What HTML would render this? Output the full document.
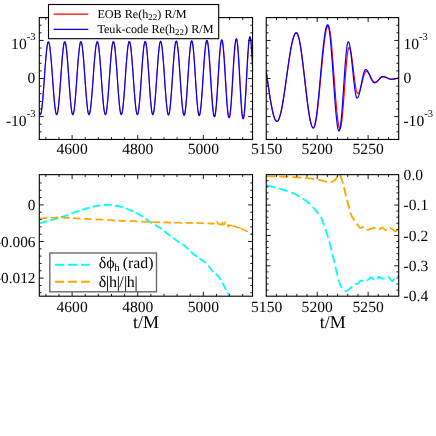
<!DOCTYPE html>
<html><head><meta charset="utf-8"><title>plot</title>
<style>
html,body{margin:0;padding:0;background:#fff;}
svg{display:block;}
text{font-family:"Liberation Serif",serif;fill:#000;text-rendering:geometricPrecision;}
</style></head><body>
<svg width="436" height="436" viewBox="0 0 436 436">
<rect x="0" y="0" width="436" height="436" fill="#fff"/>
<defs>
<clipPath id="cTL"><rect x="39.3" y="17.6" width="213.25" height="121.85"/></clipPath>
<clipPath id="cTR"><rect x="266.25" y="17.6" width="132.45" height="121.85"/></clipPath>
<clipPath id="cBL"><rect x="39.3" y="174.65" width="213.25" height="121.55"/></clipPath>
<clipPath id="cBR"><rect x="266.25" y="174.65" width="132.45" height="121.55"/></clipPath>
</defs>
<g fill="none" stroke-linejoin="round">
<g clip-path="url(#cTL)" stroke-width="1.2">
<path d="M39.3 111.96 L39.5 112.91 L39.7 113.64 L39.9 114.17 L40.1 114.49 L40.3 114.6 L40.5 114.49 L40.7 114.16 L40.9 113.62 L41.1 112.86 L41.3 111.9 L41.5 110.73 L41.7 109.37 L41.9 107.82 L42.1 106.09 L42.3 104.2 L42.5 102.14 L42.7 99.95 L42.9 97.62 L43.1 95.18 L43.3 92.64 L43.5 90.01 L43.7 87.3 L43.9 84.55 L44.1 81.75 L44.3 78.94 L44.5 76.12 L44.7 73.31 L44.9 70.53 L45.1 67.8 L45.3 65.13 L45.5 62.54 L45.7 60.05 L45.9 57.66 L46.1 55.4 L46.3 53.28 L46.5 51.3 L46.7 49.49 L46.9 47.85 L47.1 46.39 L47.3 45.12 L47.5 44.06 L47.7 43.2 L47.9 42.55 L48.1 42.11 L48.3 41.89 L48.5 41.89 L48.7 42.1 L48.9 42.51 L49.1 43.13 L49.3 43.95 L49.5 44.97 L49.7 46.18 L49.9 47.57 L50.1 49.14 L50.3 50.87 L50.5 52.76 L50.7 54.8 L50.9 56.97 L51.1 59.26 L51.3 61.66 L51.5 64.16 L51.7 66.73 L51.9 69.38 L52.1 72.07 L52.3 74.8 L52.5 77.54 L52.7 80.3 L52.9 83.04 L53.1 85.75 L53.3 88.42 L53.5 91.03 L53.7 93.57 L53.9 96.02 L54.1 98.37 L54.3 100.6 L54.5 102.7 L54.7 104.67 L54.9 106.48 L55.1 108.13 L55.3 109.61 L55.5 110.91 L55.7 112.03 L55.9 112.95 L56.1 113.67 L56.3 114.18 L56.5 114.5 L56.7 114.6 L56.9 114.49 L57.1 114.16 L57.3 113.62 L57.5 112.86 L57.7 111.9 L57.9 110.73 L58.1 109.36 L58.3 107.81 L58.5 106.08 L58.7 104.19 L58.9 102.13 L59.1 99.94 L59.3 97.61 L59.5 95.16 L59.7 92.62 L59.9 89.98 L60.1 87.28 L60.3 84.52 L60.5 81.72 L60.7 78.9 L60.9 76.08 L61.1 73.27 L61.3 70.49 L61.5 67.76 L61.7 65.09 L61.9 62.5 L62.1 60 L62.3 57.61 L62.5 55.34 L62.7 53.22 L62.9 51.24 L63.1 49.43 L63.3 47.79 L63.5 46.33 L63.7 45.06 L63.9 43.99 L64.1 43.13 L64.3 42.48 L64.5 42.04 L64.7 41.82 L64.9 41.82 L65.1 42.05 L65.3 42.5 L65.5 43.16 L65.7 44.05 L65.9 45.14 L66.1 46.44 L66.3 47.93 L66.5 49.61 L66.7 51.47 L66.9 53.49 L67.1 55.66 L67.3 57.97 L67.5 60.41 L67.7 62.96 L67.9 65.6 L68.1 68.32 L68.3 71.1 L68.5 73.92 L68.7 76.77 L68.9 79.63 L69.1 82.48 L69.3 85.3 L69.5 88.08 L69.7 90.8 L69.9 93.44 L70.1 95.98 L70.3 98.42 L70.5 100.73 L70.7 102.91 L70.9 104.93 L71.1 106.79 L71.3 108.47 L71.5 109.96 L71.7 111.26 L71.9 112.35 L72.1 113.23 L72.3 113.9 L72.5 114.35 L72.7 114.57 L72.9 114.57 L73.1 114.35 L73.3 113.92 L73.5 113.27 L73.7 112.4 L73.9 111.33 L74.1 110.07 L74.3 108.61 L74.5 106.96 L74.7 105.15 L74.9 103.17 L75.1 101.04 L75.3 98.77 L75.5 96.38 L75.7 93.88 L75.9 91.29 L76.1 88.61 L76.3 85.88 L76.5 83.1 L76.7 80.28 L76.9 77.46 L77.1 74.64 L77.3 71.84 L77.5 69.08 L77.7 66.37 L77.9 63.73 L78.1 61.18 L78.3 58.74 L78.5 56.41 L78.7 54.21 L78.9 52.15 L79.1 50.25 L79.3 48.52 L79.5 46.97 L79.7 45.61 L79.9 44.44 L80.1 43.47 L80.3 42.71 L80.5 42.17 L80.7 41.84 L80.9 41.73 L81.1 41.84 L81.3 42.17 L81.5 42.71 L81.7 43.47 L81.9 44.44 L82.1 45.61 L82.3 46.97 L82.5 48.52 L82.7 50.25 L82.9 52.15 L83.1 54.21 L83.3 56.41 L83.5 58.74 L83.7 61.18 L83.9 63.73 L84.1 66.37 L84.3 69.08 L84.5 71.84 L84.7 74.64 L84.9 77.46 L85.1 80.28 L85.3 83.1 L85.5 85.88 L85.7 88.61 L85.9 91.29 L86.1 93.88 L86.3 96.38 L86.5 98.77 L86.7 101.04 L86.9 103.17 L87.1 105.15 L87.3 106.96 L87.5 108.61 L87.7 110.07 L87.9 111.33 L88.1 112.4 L88.3 113.27 L88.5 113.92 L88.7 114.35 L88.9 114.57 L89.1 114.57 L89.3 114.37 L89.5 113.95 L89.7 113.33 L89.9 112.5 L90.1 111.48 L90.3 110.27 L90.5 108.88 L90.7 107.31 L90.9 105.57 L91.1 103.67 L91.3 101.63 L91.5 99.45 L91.7 97.16 L91.9 94.75 L92.1 92.25 L92.3 89.66 L92.5 87.01 L92.7 84.31 L92.9 81.58 L93.1 78.82 L93.3 76.06 L93.5 73.31 L93.7 70.59 L93.9 67.92 L94.1 65.3 L94.3 62.75 L94.5 60.3 L94.7 57.94 L94.9 55.7 L95.1 53.59 L95.3 51.62 L95.5 49.8 L95.7 48.15 L95.9 46.66 L96.1 45.36 L96.3 44.24 L96.5 43.32 L96.7 42.6 L96.9 42.08 L97.1 41.77 L97.3 41.66 L97.5 41.77 L97.7 42.1 L97.9 42.64 L98.1 43.4 L98.3 44.37 L98.5 45.54 L98.7 46.91 L98.9 48.46 L99.1 50.19 L99.3 52.09 L99.5 54.15 L99.7 56.35 L99.9 58.68 L100.1 61.13 L100.3 63.69 L100.5 66.32 L100.7 69.03 L100.9 71.8 L101.1 74.6 L101.3 77.42 L101.5 80.25 L101.7 83.07 L101.9 85.85 L102.1 88.59 L102.3 91.27 L102.5 93.86 L102.7 96.37 L102.9 98.76 L103.1 101.03 L103.3 103.16 L103.5 105.14 L103.7 106.96 L103.9 108.6 L104.1 110.06 L104.3 111.33 L104.5 112.4 L104.7 113.26 L104.9 113.92 L105.1 114.35 L105.3 114.57 L105.5 114.57 L105.7 114.35 L105.9 113.9 L106.1 113.23 L106.3 112.34 L106.5 111.25 L106.7 109.95 L106.9 108.45 L107.1 106.76 L107.3 104.9 L107.5 102.88 L107.7 100.7 L107.9 98.38 L108.1 95.93 L108.3 93.38 L108.5 90.73 L108.7 88.01 L108.9 85.22 L109.1 82.39 L109.3 79.53 L109.5 76.66 L109.7 73.81 L109.9 70.98 L110.1 68.19 L110.3 65.46 L110.5 62.81 L110.7 60.26 L110.9 57.82 L111.1 55.5 L111.3 53.32 L111.5 51.29 L111.7 49.43 L111.9 47.75 L112.1 46.25 L112.3 44.95 L112.5 43.85 L112.7 42.96 L112.9 42.3 L113.1 41.85 L113.3 41.62 L113.5 41.62 L113.7 41.85 L113.9 42.31 L114.1 43 L114.3 43.91 L114.5 45.03 L114.7 46.36 L114.9 47.9 L115.1 49.62 L115.3 51.53 L115.5 53.6 L115.7 55.83 L115.9 58.2 L116.1 60.69 L116.3 63.29 L116.5 65.99 L116.7 68.77 L116.9 71.6 L117.1 74.47 L117.3 77.37 L117.5 80.27 L117.7 83.16 L117.9 86.02 L118.1 88.82 L118.3 91.56 L118.5 94.21 L118.7 96.77 L118.9 99.2 L119.1 101.5 L119.3 103.65 L119.5 105.64 L119.7 107.46 L119.9 109.09 L120.1 110.52 L120.3 111.75 L120.5 112.77 L120.7 113.57 L120.9 114.14 L121.1 114.48 L121.3 114.6 L121.5 114.49 L121.7 114.15 L121.9 113.59 L122.1 112.81 L122.3 111.82 L122.5 110.62 L122.7 109.22 L122.9 107.62 L123.1 105.85 L123.3 103.9 L123.5 101.79 L123.7 99.54 L123.9 97.15 L124.1 94.65 L124.3 92.05 L124.5 89.35 L124.7 86.59 L124.9 83.78 L125.1 80.93 L125.3 78.06 L125.5 75.2 L125.7 72.35 L125.9 69.53 L126.1 66.77 L126.3 64.08 L126.5 61.48 L126.7 58.97 L126.9 56.59 L127.1 54.34 L127.3 52.23 L127.5 50.28 L127.7 48.51 L127.9 46.91 L128.1 45.51 L128.3 44.31 L128.5 43.32 L128.7 42.54 L128.9 41.98 L129.1 41.64 L129.3 41.53 L129.5 41.64 L129.7 41.97 L129.9 42.51 L130.1 43.27 L130.3 44.24 L130.5 45.41 L130.7 46.78 L130.9 48.34 L131.1 50.08 L131.3 51.98 L131.5 54.04 L131.7 56.25 L131.9 58.58 L132.1 61.04 L132.3 63.59 L132.5 66.24 L132.7 68.95 L132.9 71.72 L133.1 74.53 L133.3 77.36 L133.5 80.19 L133.7 83.01 L133.9 85.8 L134.1 88.54 L134.3 91.22 L134.5 93.83 L134.7 96.33 L134.9 98.73 L135.1 101 L135.3 103.14 L135.5 105.12 L135.7 106.94 L135.9 108.59 L136.1 110.05 L136.3 111.33 L136.5 112.4 L136.7 113.26 L136.9 113.92 L137.1 114.35 L137.3 114.57 L137.5 114.57 L137.7 114.33 L137.9 113.86 L138.1 113.16 L138.3 112.22 L138.5 111.07 L138.7 109.7 L138.9 108.13 L139.1 106.36 L139.3 104.4 L139.5 102.28 L139.7 100 L139.9 97.58 L140.1 95.03 L140.3 92.36 L140.5 89.61 L140.7 86.78 L140.9 83.9 L141.1 80.97 L141.3 78.03 L141.5 75.09 L141.7 72.16 L141.9 69.28 L142.1 66.45 L142.3 63.7 L142.5 61.04 L142.7 58.49 L142.9 56.06 L143.1 53.78 L143.3 51.66 L143.5 49.7 L143.7 47.93 L143.9 46.36 L144.1 44.99 L144.3 43.84 L144.5 42.91 L144.7 42.2 L144.9 41.73 L145.1 41.49 L145.3 41.49 L145.5 41.74 L145.7 42.24 L145.9 42.98 L146.1 43.96 L146.3 45.18 L146.5 46.62 L146.7 48.27 L146.9 50.13 L147.1 52.17 L147.3 54.4 L147.5 56.78 L147.7 59.31 L147.9 61.97 L148.1 64.74 L148.3 67.6 L148.5 70.53 L148.7 73.51 L148.9 76.52 L149.1 79.54 L149.3 82.55 L149.5 85.54 L149.7 88.47 L149.9 91.32 L150.1 94.09 L150.3 96.75 L150.5 99.28 L150.7 101.67 L150.9 103.89 L151.1 105.94 L151.3 107.79 L151.5 109.45 L151.7 110.88 L151.9 112.1 L152.1 113.08 L152.3 113.82 L152.5 114.32 L152.7 114.57 L152.9 114.57 L153.1 114.33 L153.3 113.86 L153.5 113.15 L153.7 112.22 L153.9 111.07 L154.1 109.7 L154.3 108.12 L154.5 106.35 L154.7 104.39 L154.9 102.27 L155.1 99.98 L155.3 97.56 L155.5 95.01 L155.7 92.34 L155.9 89.59 L156.1 86.75 L156.3 83.87 L156.5 80.94 L156.7 77.99 L156.9 75.05 L157.1 72.12 L157.3 69.23 L157.5 66.4 L157.7 63.65 L157.9 60.98 L158.1 58.43 L158.3 56 L158.5 53.72 L158.7 51.59 L158.9 49.64 L159.1 47.87 L159.3 46.29 L159.5 44.92 L159.7 43.77 L159.9 42.83 L160.1 42.13 L160.3 41.65 L160.5 41.42 L160.7 41.42 L160.9 41.65 L161.1 42.11 L161.3 42.8 L161.5 43.72 L161.7 44.85 L161.9 46.19 L162.1 47.74 L162.3 49.48 L162.5 51.39 L162.7 53.48 L162.9 55.73 L163.1 58.11 L163.3 60.62 L163.5 63.25 L163.7 65.96 L163.9 68.76 L164.1 71.61 L164.3 74.51 L164.5 77.43 L164.7 80.35 L164.9 83.26 L165.1 86.14 L165.3 88.96 L165.5 91.72 L165.7 94.39 L165.9 96.96 L166.1 99.42 L166.3 101.73 L166.5 103.9 L166.7 105.9 L166.9 107.73 L167.1 109.38 L167.3 110.82 L167.5 112.06 L167.7 113.08 L167.9 113.89 L168.1 114.47 L168.3 114.81 L168.5 114.93 L168.7 114.81 L168.9 114.45 L169.1 113.86 L169.3 113.03 L169.5 111.97 L169.7 110.7 L169.9 109.21 L170.1 107.52 L170.3 105.64 L170.5 103.58 L170.7 101.36 L170.9 98.98 L171.1 96.47 L171.3 93.83 L171.5 91.1 L171.7 88.28 L171.9 85.39 L172.1 82.45 L172.3 79.49 L172.5 76.51 L172.7 73.55 L172.9 70.62 L173.1 67.73 L173.3 64.91 L173.5 62.17 L173.7 59.54 L173.9 57.02 L174.1 54.65 L174.3 52.42 L174.5 50.36 L174.7 48.48 L174.9 46.79 L175.1 45.3 L175.3 44.03 L175.5 42.97 L175.7 42.15 L175.9 41.55 L176.1 41.19 L176.3 41.07 L176.5 41.19 L176.7 41.55 L176.9 42.15 L177.1 42.98 L177.3 44.04 L177.5 45.32 L177.7 46.82 L177.9 48.51 L178.1 50.4 L178.3 52.47 L178.5 54.71 L178.7 57.1 L178.9 59.62 L179.1 62.27 L179.3 65.01 L179.5 67.85 L179.7 70.75 L179.9 73.7 L180.1 76.67 L180.3 79.66 L180.5 82.64 L180.7 85.59 L180.9 88.49 L181.1 91.32 L181.3 94.07 L181.5 96.71 L181.7 99.24 L181.9 101.63 L182.1 103.86 L182.3 105.93 L182.5 107.82 L182.7 109.52 L182.9 111.01 L183.1 112.29 L183.3 113.35 L183.5 114.18 L183.7 114.78 L183.9 115.14 L184.1 115.26 L184.3 115.13 L184.5 114.75 L184.7 114.12 L184.9 113.24 L185.1 112.12 L185.3 110.77 L185.5 109.2 L185.7 107.41 L185.9 105.42 L186.1 103.24 L186.3 100.89 L186.5 98.39 L186.7 95.74 L186.9 92.98 L187.1 90.11 L187.3 87.16 L187.5 84.14 L187.7 81.09 L187.9 78.01 L188.1 74.94 L188.3 71.88 L188.5 68.87 L188.7 65.92 L188.9 63.05 L189.1 60.29 L189.3 57.64 L189.5 55.14 L189.7 52.79 L189.9 50.61 L190.1 48.62 L190.3 46.83 L190.5 45.26 L190.7 43.9 L190.9 42.78 L191.1 41.91 L191.3 41.27 L191.5 40.89 L191.7 40.77 L191.9 40.9 L192.1 41.29 L192.3 41.94 L192.5 42.85 L192.7 44 L192.9 45.39 L193.1 47.02 L193.3 48.86 L193.5 50.9 L193.7 53.14 L193.9 55.56 L194.1 58.13 L194.3 60.84 L194.5 63.68 L194.7 66.61 L194.9 69.63 L195.1 72.71 L195.3 75.83 L195.5 78.96 L195.7 82.08 L195.9 85.18 L196.1 88.23 L196.3 91.21 L196.5 94.1 L196.7 96.88 L196.9 99.52 L197.1 102.02 L197.3 104.35 L197.5 106.49 L197.7 108.44 L197.9 110.17 L198.1 111.68 L198.3 112.96 L198.5 113.99 L198.7 114.77 L198.9 115.29 L199.1 115.55 L199.3 115.55 L199.5 115.31 L199.7 114.83 L199.9 114.12 L200.1 113.17 L200.3 112 L200.5 110.61 L200.7 109.01 L200.9 107.21 L201.1 105.22 L201.3 103.06 L201.5 100.74 L201.7 98.28 L201.9 95.68 L202.1 92.97 L202.3 90.16 L202.5 87.28 L202.7 84.33 L202.9 81.35 L203.1 78.34 L203.3 75.34 L203.5 72.34 L203.7 69.39 L203.9 66.49 L204.1 63.66 L204.3 60.92 L204.5 58.3 L204.7 55.8 L204.9 53.44 L205.1 51.24 L205.3 49.21 L205.5 47.36 L205.7 45.71 L205.9 44.27 L206.1 43.04 L206.3 42.03 L206.5 41.26 L206.7 40.72 L206.9 40.42 L207.1 40.36 L207.3 40.56 L207.5 41.01 L207.7 41.72 L207.9 42.68 L208.1 43.89 L208.3 45.33 L208.5 47 L208.7 48.89 L208.9 50.97 L209.1 53.25 L209.3 55.69 L209.5 58.3 L209.7 61.04 L209.9 63.9 L210.1 66.86 L210.3 69.9 L210.5 72.99 L210.7 76.13 L210.9 79.28 L211.1 82.43 L211.3 85.55 L211.5 88.62 L211.7 91.62 L211.9 94.53 L212.1 97.33 L212.3 100.01 L212.5 102.54 L212.7 104.9 L212.9 107.08 L213.1 109.07 L213.3 110.85 L213.5 112.4 L213.7 113.73 L213.9 114.81 L214.1 115.65 L214.3 116.23 L214.5 116.56 L214.7 116.62 L214.9 116.41 L215.1 115.91 L215.3 115.14 L215.5 114.09 L215.7 112.78 L215.9 111.21 L216.1 109.39 L216.3 107.35 L216.5 105.09 L216.7 102.63 L216.9 99.99 L217.1 97.19 L217.3 94.25 L217.5 91.19 L217.7 88.03 L217.9 84.8 L218.1 81.52 L218.3 78.22 L218.5 74.92 L218.7 71.64 L218.9 68.41 L219.1 65.26 L219.3 62.2 L219.5 59.26 L219.7 56.45 L219.9 53.81 L220.1 51.35 L220.3 49.09 L220.5 47.05 L220.7 45.24 L220.9 43.67 L221.1 42.35 L221.3 41.3 L221.5 40.53 L221.7 40.03 L221.9 39.82 L222.1 39.89 L222.3 40.25 L222.5 40.9 L222.7 41.82 L222.9 43.02 L223.1 44.49 L223.3 46.21 L223.5 48.17 L223.7 50.36 L223.9 52.75 L224.1 55.35 L224.3 58.11 L224.5 61.03 L224.7 64.08 L224.9 67.24 L225.1 70.48 L225.3 73.78 L225.5 77.13 L225.7 80.48 L225.9 83.83 L226.1 87.13 L226.3 90.38 L226.5 93.53 L226.7 96.58 L226.9 99.5 L227.1 102.27 L227.3 104.86 L227.5 107.25 L227.7 109.44 L227.9 111.4 L228.1 113.12 L228.3 114.59 L228.5 115.79 L228.7 116.71 L228.9 117.36 L229.1 117.72 L229.3 117.79 L229.5 117.57 L229.7 117.06 L229.9 116.26 L230.1 115.19 L230.3 113.84 L230.5 112.22 L230.7 110.36 L230.9 108.25 L231.1 105.93 L231.3 103.4 L231.5 100.68 L231.7 97.8 L231.9 94.78 L232.1 91.63 L232.3 88.39 L232.5 85.07 L232.7 81.7 L232.9 78.3 L233.1 74.9 L233.3 71.53 L233.5 68.21 L233.7 64.97 L233.9 61.82 L234.1 58.8 L234.3 55.92 L234.5 53.2 L234.7 50.67 L234.9 48.35 L235.1 46.24 L235.3 44.38 L235.5 42.76 L235.7 41.41 L235.9 40.34 L236.1 39.54 L236.3 39.03 L236.5 38.81 L236.7 38.9 L236.9 39.32 L237.1 40.08 L237.3 41.18 L237.5 42.59 L237.7 44.31 L237.9 46.33 L238.1 48.63 L238.3 51.18 L238.5 53.96 L238.7 56.96 L238.9 60.15 L239.1 63.49 L239.3 66.97 L239.5 70.54 L239.7 74.19 L239.9 77.88 L240.1 81.57 L240.3 85.24 L240.5 88.85 L240.7 92.38 L240.9 95.8 L241.1 99.07 L241.3 102.16 L241.5 105.06 L241.7 107.73 L241.9 110.16 L242.1 112.31 L242.3 114.19 L242.5 115.76 L242.7 117.01 L242.9 117.94 L243.1 118.53 L243.3 118.79 L243.5 118.7 L243.7 118.27 L243.9 117.48 L244.1 116.36 L244.3 114.91 L244.5 113.15 L244.7 111.08 L244.9 108.73 L245.1 106.11 L245.3 103.26 L245.5 100.18 L245.7 96.92 L245.9 93.49 L246.1 89.93 L246.3 86.26 L246.5 82.52 L246.7 78.75 L246.9 74.96 L247.1 71.2 L247.3 67.49 L247.5 63.88 L247.7 60.38 L247.9 57.03 L248.1 53.85 L248.3 50.89 L248.5 48.15 L248.7 45.66 L248.9 43.45 L249.1 41.53 L249.3 39.92 L249.5 38.63 L249.7 37.68 L249.9 37.07 L250.1 36.81 L250.3 36.91 L250.5 37.4 L250.7 38.28 L250.9 39.54 L251.1 41.16 L251.3 43.14 L251.5 45.45 L251.7 48.07 L251.9 50.98 L252.1 54.15 L252.3 57.56 L252.5 61.16" stroke="#f00" stroke-width="0.9"/>
<path d="M39.3 111.96 L39.5 112.91 L39.7 113.64 L39.9 114.17 L40.1 114.49 L40.3 114.6 L40.5 114.49 L40.7 114.16 L40.9 113.62 L41.1 112.86 L41.3 111.9 L41.5 110.73 L41.7 109.37 L41.9 107.82 L42.1 106.09 L42.3 104.2 L42.5 102.14 L42.7 99.95 L42.9 97.62 L43.1 95.18 L43.3 92.64 L43.5 90.01 L43.7 87.3 L43.9 84.55 L44.1 81.75 L44.3 78.94 L44.5 76.12 L44.7 73.31 L44.9 70.53 L45.1 67.8 L45.3 65.13 L45.5 62.54 L45.7 60.05 L45.9 57.66 L46.1 55.4 L46.3 53.28 L46.5 51.3 L46.7 49.49 L46.9 47.85 L47.1 46.39 L47.3 45.12 L47.5 44.06 L47.7 43.2 L47.9 42.55 L48.1 42.11 L48.3 41.89 L48.5 41.89 L48.7 42.1 L48.9 42.51 L49.1 43.13 L49.3 43.95 L49.5 44.97 L49.7 46.18 L49.9 47.57 L50.1 49.14 L50.3 50.87 L50.5 52.76 L50.7 54.8 L50.9 56.97 L51.1 59.26 L51.3 61.66 L51.5 64.16 L51.7 66.73 L51.9 69.38 L52.1 72.07 L52.3 74.8 L52.5 77.54 L52.7 80.3 L52.9 83.04 L53.1 85.75 L53.3 88.42 L53.5 91.03 L53.7 93.57 L53.9 96.02 L54.1 98.37 L54.3 100.6 L54.5 102.7 L54.7 104.67 L54.9 106.48 L55.1 108.13 L55.3 109.61 L55.5 110.91 L55.7 112.03 L55.9 112.95 L56.1 113.67 L56.3 114.18 L56.5 114.5 L56.7 114.6 L56.9 114.49 L57.1 114.16 L57.3 113.62 L57.5 112.86 L57.7 111.9 L57.9 110.73 L58.1 109.36 L58.3 107.81 L58.5 106.08 L58.7 104.19 L58.9 102.13 L59.1 99.94 L59.3 97.61 L59.5 95.16 L59.7 92.62 L59.9 89.98 L60.1 87.28 L60.3 84.52 L60.5 81.72 L60.7 78.9 L60.9 76.08 L61.1 73.27 L61.3 70.49 L61.5 67.76 L61.7 65.09 L61.9 62.5 L62.1 60 L62.3 57.61 L62.5 55.34 L62.7 53.22 L62.9 51.24 L63.1 49.43 L63.3 47.79 L63.5 46.33 L63.7 45.06 L63.9 43.99 L64.1 43.13 L64.3 42.48 L64.5 42.04 L64.7 41.82 L64.9 41.82 L65.1 42.05 L65.3 42.5 L65.5 43.16 L65.7 44.05 L65.9 45.14 L66.1 46.44 L66.3 47.93 L66.5 49.61 L66.7 51.47 L66.9 53.49 L67.1 55.66 L67.3 57.97 L67.5 60.41 L67.7 62.96 L67.9 65.6 L68.1 68.32 L68.3 71.1 L68.5 73.92 L68.7 76.77 L68.9 79.63 L69.1 82.48 L69.3 85.3 L69.5 88.08 L69.7 90.8 L69.9 93.44 L70.1 95.98 L70.3 98.42 L70.5 100.73 L70.7 102.91 L70.9 104.93 L71.1 106.79 L71.3 108.47 L71.5 109.96 L71.7 111.26 L71.9 112.35 L72.1 113.23 L72.3 113.9 L72.5 114.35 L72.7 114.57 L72.9 114.57 L73.1 114.35 L73.3 113.92 L73.5 113.27 L73.7 112.4 L73.9 111.33 L74.1 110.07 L74.3 108.61 L74.5 106.96 L74.7 105.15 L74.9 103.17 L75.1 101.04 L75.3 98.77 L75.5 96.38 L75.7 93.88 L75.9 91.29 L76.1 88.61 L76.3 85.88 L76.5 83.1 L76.7 80.28 L76.9 77.46 L77.1 74.64 L77.3 71.84 L77.5 69.08 L77.7 66.37 L77.9 63.73 L78.1 61.18 L78.3 58.74 L78.5 56.41 L78.7 54.21 L78.9 52.15 L79.1 50.25 L79.3 48.52 L79.5 46.97 L79.7 45.61 L79.9 44.44 L80.1 43.47 L80.3 42.71 L80.5 42.17 L80.7 41.84 L80.9 41.73 L81.1 41.84 L81.3 42.17 L81.5 42.71 L81.7 43.47 L81.9 44.44 L82.1 45.61 L82.3 46.97 L82.5 48.52 L82.7 50.25 L82.9 52.15 L83.1 54.21 L83.3 56.41 L83.5 58.74 L83.7 61.18 L83.9 63.73 L84.1 66.37 L84.3 69.08 L84.5 71.84 L84.7 74.64 L84.9 77.46 L85.1 80.28 L85.3 83.1 L85.5 85.88 L85.7 88.61 L85.9 91.29 L86.1 93.88 L86.3 96.38 L86.5 98.77 L86.7 101.04 L86.9 103.17 L87.1 105.15 L87.3 106.96 L87.5 108.61 L87.7 110.07 L87.9 111.33 L88.1 112.4 L88.3 113.27 L88.5 113.92 L88.7 114.35 L88.9 114.57 L89.1 114.57 L89.3 114.37 L89.5 113.95 L89.7 113.33 L89.9 112.5 L90.1 111.48 L90.3 110.27 L90.5 108.88 L90.7 107.31 L90.9 105.57 L91.1 103.67 L91.3 101.63 L91.5 99.45 L91.7 97.16 L91.9 94.75 L92.1 92.25 L92.3 89.66 L92.5 87.01 L92.7 84.31 L92.9 81.58 L93.1 78.82 L93.3 76.06 L93.5 73.31 L93.7 70.59 L93.9 67.92 L94.1 65.3 L94.3 62.75 L94.5 60.3 L94.7 57.94 L94.9 55.7 L95.1 53.59 L95.3 51.62 L95.5 49.8 L95.7 48.15 L95.9 46.66 L96.1 45.36 L96.3 44.24 L96.5 43.32 L96.7 42.6 L96.9 42.08 L97.1 41.77 L97.3 41.66 L97.5 41.77 L97.7 42.1 L97.9 42.64 L98.1 43.4 L98.3 44.37 L98.5 45.54 L98.7 46.91 L98.9 48.46 L99.1 50.19 L99.3 52.09 L99.5 54.15 L99.7 56.35 L99.9 58.68 L100.1 61.13 L100.3 63.69 L100.5 66.32 L100.7 69.03 L100.9 71.8 L101.1 74.6 L101.3 77.42 L101.5 80.25 L101.7 83.07 L101.9 85.85 L102.1 88.59 L102.3 91.27 L102.5 93.86 L102.7 96.37 L102.9 98.76 L103.1 101.03 L103.3 103.16 L103.5 105.14 L103.7 106.96 L103.9 108.6 L104.1 110.06 L104.3 111.33 L104.5 112.4 L104.7 113.26 L104.9 113.92 L105.1 114.35 L105.3 114.57 L105.5 114.57 L105.7 114.35 L105.9 113.9 L106.1 113.23 L106.3 112.34 L106.5 111.25 L106.7 109.95 L106.9 108.45 L107.1 106.76 L107.3 104.9 L107.5 102.88 L107.7 100.7 L107.9 98.38 L108.1 95.93 L108.3 93.38 L108.5 90.73 L108.7 88.01 L108.9 85.22 L109.1 82.39 L109.3 79.53 L109.5 76.66 L109.7 73.81 L109.9 70.98 L110.1 68.19 L110.3 65.46 L110.5 62.81 L110.7 60.26 L110.9 57.82 L111.1 55.5 L111.3 53.32 L111.5 51.29 L111.7 49.43 L111.9 47.75 L112.1 46.25 L112.3 44.95 L112.5 43.85 L112.7 42.96 L112.9 42.3 L113.1 41.85 L113.3 41.62 L113.5 41.62 L113.7 41.85 L113.9 42.31 L114.1 43 L114.3 43.91 L114.5 45.03 L114.7 46.36 L114.9 47.9 L115.1 49.62 L115.3 51.53 L115.5 53.6 L115.7 55.83 L115.9 58.2 L116.1 60.69 L116.3 63.29 L116.5 65.99 L116.7 68.77 L116.9 71.6 L117.1 74.47 L117.3 77.37 L117.5 80.27 L117.7 83.16 L117.9 86.02 L118.1 88.82 L118.3 91.56 L118.5 94.21 L118.7 96.77 L118.9 99.2 L119.1 101.5 L119.3 103.65 L119.5 105.64 L119.7 107.46 L119.9 109.09 L120.1 110.52 L120.3 111.75 L120.5 112.77 L120.7 113.57 L120.9 114.14 L121.1 114.48 L121.3 114.6 L121.5 114.49 L121.7 114.15 L121.9 113.59 L122.1 112.81 L122.3 111.82 L122.5 110.62 L122.7 109.22 L122.9 107.62 L123.1 105.85 L123.3 103.9 L123.5 101.79 L123.7 99.54 L123.9 97.15 L124.1 94.65 L124.3 92.05 L124.5 89.35 L124.7 86.59 L124.9 83.78 L125.1 80.93 L125.3 78.06 L125.5 75.2 L125.7 72.35 L125.9 69.53 L126.1 66.77 L126.3 64.08 L126.5 61.48 L126.7 58.97 L126.9 56.59 L127.1 54.34 L127.3 52.23 L127.5 50.28 L127.7 48.51 L127.9 46.91 L128.1 45.51 L128.3 44.31 L128.5 43.32 L128.7 42.54 L128.9 41.98 L129.1 41.64 L129.3 41.53 L129.5 41.64 L129.7 41.97 L129.9 42.51 L130.1 43.27 L130.3 44.24 L130.5 45.41 L130.7 46.78 L130.9 48.34 L131.1 50.08 L131.3 51.98 L131.5 54.04 L131.7 56.25 L131.9 58.58 L132.1 61.04 L132.3 63.59 L132.5 66.24 L132.7 68.95 L132.9 71.72 L133.1 74.53 L133.3 77.36 L133.5 80.19 L133.7 83.01 L133.9 85.8 L134.1 88.54 L134.3 91.22 L134.5 93.83 L134.7 96.33 L134.9 98.73 L135.1 101 L135.3 103.14 L135.5 105.12 L135.7 106.94 L135.9 108.59 L136.1 110.05 L136.3 111.33 L136.5 112.4 L136.7 113.26 L136.9 113.92 L137.1 114.35 L137.3 114.57 L137.5 114.57 L137.7 114.33 L137.9 113.86 L138.1 113.16 L138.3 112.22 L138.5 111.07 L138.7 109.7 L138.9 108.13 L139.1 106.36 L139.3 104.4 L139.5 102.28 L139.7 100 L139.9 97.58 L140.1 95.03 L140.3 92.36 L140.5 89.61 L140.7 86.78 L140.9 83.9 L141.1 80.97 L141.3 78.03 L141.5 75.09 L141.7 72.16 L141.9 69.28 L142.1 66.45 L142.3 63.7 L142.5 61.04 L142.7 58.49 L142.9 56.06 L143.1 53.78 L143.3 51.66 L143.5 49.7 L143.7 47.93 L143.9 46.36 L144.1 44.99 L144.3 43.84 L144.5 42.91 L144.7 42.2 L144.9 41.73 L145.1 41.49 L145.3 41.49 L145.5 41.74 L145.7 42.24 L145.9 42.98 L146.1 43.96 L146.3 45.18 L146.5 46.62 L146.7 48.27 L146.9 50.13 L147.1 52.17 L147.3 54.4 L147.5 56.78 L147.7 59.31 L147.9 61.97 L148.1 64.74 L148.3 67.6 L148.5 70.53 L148.7 73.51 L148.9 76.52 L149.1 79.54 L149.3 82.55 L149.5 85.54 L149.7 88.47 L149.9 91.32 L150.1 94.09 L150.3 96.75 L150.5 99.28 L150.7 101.67 L150.9 103.89 L151.1 105.94 L151.3 107.79 L151.5 109.45 L151.7 110.88 L151.9 112.1 L152.1 113.08 L152.3 113.82 L152.5 114.32 L152.7 114.57 L152.9 114.57 L153.1 114.33 L153.3 113.86 L153.5 113.15 L153.7 112.22 L153.9 111.07 L154.1 109.7 L154.3 108.12 L154.5 106.35 L154.7 104.39 L154.9 102.27 L155.1 99.98 L155.3 97.56 L155.5 95.01 L155.7 92.34 L155.9 89.59 L156.1 86.75 L156.3 83.87 L156.5 80.94 L156.7 77.99 L156.9 75.05 L157.1 72.12 L157.3 69.23 L157.5 66.4 L157.7 63.65 L157.9 60.98 L158.1 58.43 L158.3 56 L158.5 53.72 L158.7 51.59 L158.9 49.64 L159.1 47.87 L159.3 46.29 L159.5 44.92 L159.7 43.77 L159.9 42.83 L160.1 42.13 L160.3 41.65 L160.5 41.42 L160.7 41.42 L160.9 41.65 L161.1 42.11 L161.3 42.8 L161.5 43.72 L161.7 44.85 L161.9 46.19 L162.1 47.74 L162.3 49.48 L162.5 51.39 L162.7 53.48 L162.9 55.73 L163.1 58.11 L163.3 60.62 L163.5 63.25 L163.7 65.96 L163.9 68.76 L164.1 71.61 L164.3 74.51 L164.5 77.43 L164.7 80.35 L164.9 83.26 L165.1 86.14 L165.3 88.96 L165.5 91.72 L165.7 94.39 L165.9 96.96 L166.1 99.42 L166.3 101.73 L166.5 103.9 L166.7 105.9 L166.9 107.73 L167.1 109.38 L167.3 110.82 L167.5 112.06 L167.7 113.08 L167.9 113.89 L168.1 114.47 L168.3 114.81 L168.5 114.93 L168.7 114.81 L168.9 114.45 L169.1 113.86 L169.3 113.03 L169.5 111.97 L169.7 110.7 L169.9 109.21 L170.1 107.52 L170.3 105.64 L170.5 103.58 L170.7 101.36 L170.9 98.98 L171.1 96.47 L171.3 93.83 L171.5 91.1 L171.7 88.28 L171.9 85.39 L172.1 82.45 L172.3 79.49 L172.5 76.51 L172.7 73.55 L172.9 70.62 L173.1 67.73 L173.3 64.91 L173.5 62.17 L173.7 59.54 L173.9 57.02 L174.1 54.65 L174.3 52.42 L174.5 50.36 L174.7 48.48 L174.9 46.79 L175.1 45.3 L175.3 44.03 L175.5 42.97 L175.7 42.15 L175.9 41.55 L176.1 41.19 L176.3 41.07 L176.5 41.19 L176.7 41.55 L176.9 42.15 L177.1 42.98 L177.3 44.04 L177.5 45.32 L177.7 46.82 L177.9 48.51 L178.1 50.4 L178.3 52.47 L178.5 54.71 L178.7 57.1 L178.9 59.62 L179.1 62.27 L179.3 65.01 L179.5 67.85 L179.7 70.75 L179.9 73.7 L180.1 76.67 L180.3 79.66 L180.5 82.64 L180.7 85.59 L180.9 88.49 L181.1 91.32 L181.3 94.07 L181.5 96.71 L181.7 99.24 L181.9 101.63 L182.1 103.86 L182.3 105.93 L182.5 107.82 L182.7 109.52 L182.9 111.01 L183.1 112.29 L183.3 113.35 L183.5 114.18 L183.7 114.78 L183.9 115.14 L184.1 115.26 L184.3 115.13 L184.5 114.75 L184.7 114.12 L184.9 113.24 L185.1 112.12 L185.3 110.77 L185.5 109.2 L185.7 107.41 L185.9 105.42 L186.1 103.24 L186.3 100.89 L186.5 98.39 L186.7 95.74 L186.9 92.98 L187.1 90.11 L187.3 87.16 L187.5 84.14 L187.7 81.09 L187.9 78.01 L188.1 74.94 L188.3 71.88 L188.5 68.87 L188.7 65.92 L188.9 63.05 L189.1 60.29 L189.3 57.64 L189.5 55.14 L189.7 52.79 L189.9 50.61 L190.1 48.62 L190.3 46.83 L190.5 45.26 L190.7 43.9 L190.9 42.78 L191.1 41.91 L191.3 41.27 L191.5 40.89 L191.7 40.77 L191.9 40.9 L192.1 41.29 L192.3 41.94 L192.5 42.85 L192.7 44 L192.9 45.39 L193.1 47.02 L193.3 48.86 L193.5 50.9 L193.7 53.14 L193.9 55.56 L194.1 58.13 L194.3 60.84 L194.5 63.68 L194.7 66.61 L194.9 69.63 L195.1 72.71 L195.3 75.83 L195.5 78.96 L195.7 82.08 L195.9 85.18 L196.1 88.23 L196.3 91.21 L196.5 94.1 L196.7 96.88 L196.9 99.52 L197.1 102.02 L197.3 104.35 L197.5 106.49 L197.7 108.44 L197.9 110.17 L198.1 111.68 L198.3 112.96 L198.5 113.99 L198.7 114.77 L198.9 115.29 L199.1 115.55 L199.3 115.55 L199.5 115.29 L199.7 114.78 L199.9 114.02 L200.1 113.01 L200.3 111.76 L200.5 110.28 L200.7 108.58 L200.9 106.67 L201.1 104.57 L201.3 102.28 L201.5 99.83 L201.7 97.22 L201.9 94.49 L202.1 91.64 L202.3 88.7 L202.5 85.69 L202.7 82.62 L202.9 79.52 L203.1 76.41 L203.3 73.32 L203.5 70.25 L203.7 67.23 L203.9 64.29 L204.1 61.45 L204.3 58.71 L204.5 56.11 L204.7 53.66 L204.9 51.37 L205.1 49.26 L205.3 47.35 L205.5 45.65 L205.7 44.17 L205.9 42.93 L206.1 41.92 L206.3 41.15 L206.5 40.64 L206.7 40.38 L206.9 40.39 L207.1 40.65 L207.3 41.16 L207.5 41.94 L207.7 42.96 L207.9 44.23 L208.1 45.73 L208.3 47.45 L208.5 49.39 L208.7 51.52 L208.9 53.84 L209.1 56.33 L209.3 58.97 L209.5 61.74 L209.7 64.63 L209.9 67.61 L210.1 70.67 L210.3 73.77 L210.5 76.92 L210.7 80.07 L210.9 83.21 L211.1 86.32 L211.3 89.37 L211.5 92.36 L211.7 95.24 L211.9 98.02 L212.1 100.65 L212.3 103.14 L212.5 105.46 L212.7 107.6 L212.9 109.53 L213.1 111.26 L213.3 112.76 L213.5 114.02 L213.7 115.05 L213.9 115.82 L214.1 116.34 L214.3 116.6 L214.5 116.6 L214.7 116.31 L214.9 115.75 L215.1 114.9 L215.3 113.79 L215.5 112.41 L215.7 110.78 L215.9 108.9 L216.1 106.8 L216.3 104.49 L216.5 101.98 L216.7 99.3 L216.9 96.46 L217.1 93.49 L217.3 90.4 L217.5 87.23 L217.7 83.99 L217.9 80.7 L218.1 77.4 L218.3 74.1 L218.5 70.83 L218.7 67.62 L218.9 64.48 L219.1 61.45 L219.3 58.54 L219.5 55.78 L219.7 53.18 L219.9 50.77 L220.1 48.56 L220.3 46.57 L220.5 44.82 L220.7 43.31 L220.9 42.06 L221.1 41.08 L221.3 40.38 L221.5 39.95 L221.7 39.81 L221.9 39.96 L222.1 40.39 L222.3 41.1 L222.5 42.1 L222.7 43.37 L222.9 44.9 L223.1 46.68 L223.3 48.7 L223.5 50.94 L223.7 53.38 L223.9 56.02 L224.1 58.83 L224.3 61.78 L224.5 64.86 L224.7 68.04 L224.9 71.3 L225.1 74.62 L225.3 77.97 L225.5 81.32 L225.7 84.66 L225.9 87.95 L226.1 91.17 L226.3 94.31 L226.5 97.33 L226.7 100.21 L226.9 102.93 L227.1 105.47 L227.3 107.82 L227.5 109.95 L227.7 111.85 L227.9 113.51 L228.1 114.91 L228.3 116.04 L228.5 116.9 L228.7 117.48 L228.9 117.76 L229.1 117.76 L229.3 117.47 L229.5 116.89 L229.7 116.02 L229.9 114.87 L230.1 113.46 L230.3 111.78 L230.5 109.85 L230.7 107.69 L230.9 105.31 L231.1 102.74 L231.3 99.98 L231.5 97.06 L231.7 94 L231.9 90.83 L232.1 87.56 L232.3 84.23 L232.5 80.85 L232.7 77.45 L232.9 74.06 L233.1 70.7 L233.3 67.39 L233.5 64.17 L233.7 61.05 L233.9 58.06 L234.1 55.22 L234.3 52.55 L234.5 50.07 L234.7 47.8 L234.9 45.76 L235.1 43.95 L235.3 42.4 L235.5 41.12 L235.7 40.11 L235.9 39.38 L236.1 38.95 L236.3 38.8 L236.5 38.97 L236.7 39.48 L236.9 40.33 L237.1 41.5 L237.3 42.99 L237.5 44.79 L237.7 46.88 L237.9 49.24 L238.1 51.85 L238.3 54.69 L238.5 57.74 L238.7 60.97 L238.9 64.35 L239.1 67.85 L239.3 71.45 L239.5 75.11 L239.7 78.8 L239.9 82.49 L240.1 86.15 L240.3 89.75 L240.5 93.25 L240.7 96.63 L240.9 99.86 L241.1 102.91 L241.3 105.75 L241.5 108.36 L241.7 110.72 L241.9 112.81 L242.1 114.61 L242.3 116.1 L242.5 117.27 L242.7 118.12 L242.9 118.63 L243.1 118.8 L243.3 118.63 L243.5 118.1 L243.7 117.23 L243.9 116.03 L244.1 114.5 L244.3 112.66 L244.5 110.52 L244.7 108.1 L244.9 105.42 L245.1 102.51 L245.3 99.38 L245.5 96.08 L245.7 92.61 L245.9 89.02 L246.1 85.33 L246.3 81.58 L246.5 77.8 L246.7 74.02 L246.9 70.27 L247.1 66.58 L247.3 62.99 L247.5 59.52 L247.7 56.22 L247.9 53.09 L248.1 50.18 L248.3 47.5 L248.5 45.08 L248.7 42.94 L248.9 41.1 L249.1 39.57 L249.3 38.37 L249.5 37.5 L249.7 36.97 L249.9 36.8 L250.1 37 L250.3 37.58 L250.5 38.56 L250.7 39.91 L250.9 41.62 L251.1 43.68 L251.3 46.08 L251.5 48.77 L251.7 51.75 L251.9 54.98 L252.1 58.44 L252.3 62.09 L252.5 65.89" stroke="#00f"/>
</g>
<g clip-path="url(#cTR)" stroke-width="1.2">
<path d="M266.25 71.74 L266.45 73.11 L266.65 74.49 L266.85 75.87 L267.05 77.26 L267.25 78.65 L267.45 80.04 L267.65 81.43 L267.85 82.81 L268.05 84.19 L268.25 85.56 L268.45 86.93 L268.65 88.29 L268.85 89.63 L269.05 90.97 L269.25 92.29 L269.45 93.6 L269.65 94.89 L269.85 96.17 L270.05 97.42 L270.25 98.66 L270.45 99.87 L270.65 101.07 L270.85 102.24 L271.05 103.38 L271.25 104.5 L271.45 105.59 L271.65 106.65 L271.85 107.68 L272.05 108.69 L272.25 109.65 L272.45 110.59 L272.65 111.49 L272.85 112.36 L273.05 113.2 L273.25 113.99 L273.45 114.75 L273.65 115.47 L273.85 116.15 L274.05 116.79 L274.25 117.39 L274.45 117.95 L274.65 118.47 L274.85 118.95 L275.05 119.38 L275.25 119.77 L275.45 120.12 L275.65 120.42 L275.85 120.68 L276.05 120.89 L276.25 121.06 L276.45 121.19 L276.65 121.26 L276.85 121.3 L277.05 121.29 L277.25 121.23 L277.45 121.12 L277.65 120.97 L277.85 120.78 L278.05 120.53 L278.25 120.25 L278.45 119.91 L278.65 119.53 L278.85 119.11 L279.05 118.64 L279.25 118.13 L279.45 117.58 L279.65 116.98 L279.85 116.35 L280.05 115.67 L280.25 114.95 L280.45 114.19 L280.65 113.39 L280.85 112.55 L281.05 111.68 L281.25 110.77 L281.45 109.82 L281.65 108.84 L281.85 107.83 L282.05 106.78 L282.25 105.71 L282.45 104.6 L282.65 103.46 L282.85 102.3 L283.05 101.11 L283.25 99.9 L283.45 98.66 L283.65 97.39 L283.85 96.11 L284.05 94.81 L284.25 93.49 L284.45 92.15 L284.65 90.79 L284.85 89.42 L285.05 88.04 L285.25 86.65 L285.45 85.24 L285.65 83.83 L285.85 82.41 L286.05 80.99 L286.25 79.56 L286.45 78.12 L286.65 76.69 L286.85 75.26 L287.05 73.83 L287.25 72.4 L287.45 70.98 L287.65 69.56 L287.85 68.15 L288.05 66.75 L288.25 65.37 L288.45 63.99 L288.65 62.63 L288.85 61.28 L289.05 59.95 L289.25 58.64 L289.45 57.34 L289.65 56.07 L289.85 54.82 L290.05 53.59 L290.25 52.39 L290.45 51.21 L290.65 50.06 L290.85 48.94 L291.05 47.85 L291.25 46.79 L291.45 45.76 L291.65 44.76 L291.85 43.8 L292.05 42.87 L292.25 41.98 L292.45 41.13 L292.65 40.31 L292.85 39.53 L293.05 38.79 L293.25 38.09 L293.45 37.43 L293.65 36.81 L293.85 36.24 L294.05 35.7 L294.25 35.22 L294.45 34.77 L294.65 34.37 L294.85 34.01 L295.05 33.7 L295.25 33.44 L295.45 33.22 L295.65 33.04 L295.85 32.92 L296.05 32.84 L296.25 32.8 L296.45 32.82 L296.65 32.9 L296.85 33.04 L297.05 33.25 L297.25 33.52 L297.45 33.86 L297.65 34.26 L297.85 34.71 L298.05 35.24 L298.25 35.82 L298.45 36.46 L298.65 37.16 L298.85 37.92 L299.05 38.74 L299.25 39.61 L299.45 40.54 L299.65 41.52 L299.85 42.56 L300.05 43.65 L300.25 44.78 L300.45 45.96 L300.65 47.19 L300.85 48.47 L301.05 49.79 L301.25 51.14 L301.45 52.54 L301.65 53.98 L301.85 55.45 L302.05 56.95 L302.25 58.49 L302.45 60.06 L302.65 61.65 L302.85 63.27 L303.05 64.91 L303.25 66.57 L303.45 68.25 L303.65 69.95 L303.85 71.66 L304.05 73.39 L304.25 75.12 L304.45 76.86 L304.65 78.6 L304.85 80.35 L305.05 82.1 L305.25 83.84 L305.45 85.58 L305.65 87.31 L305.85 89.04 L306.05 90.75 L306.25 92.45 L306.45 94.13 L306.65 95.79 L306.85 97.43 L307.05 99.05 L307.25 100.64 L307.45 102.21 L307.65 103.75 L307.85 105.25 L308.05 106.72 L308.25 108.16 L308.45 109.56 L308.65 110.91 L308.85 112.23 L309.05 113.51 L309.25 114.74 L309.45 115.92 L309.65 117.05 L309.85 118.14 L310.05 119.18 L310.25 120.16 L310.45 121.09 L310.65 121.96 L310.85 122.78 L311.05 123.54 L311.25 124.24 L311.45 124.88 L311.65 125.46 L311.85 125.99 L312.05 126.44 L312.25 126.84 L312.45 127.18 L312.65 127.45 L312.85 127.66 L313.05 127.8 L313.25 127.88 L313.45 127.9 L313.65 127.83 L313.85 127.67 L314.05 127.41 L314.25 127.07 L314.45 126.63 L314.65 126.11 L314.85 125.5 L315.05 124.79 L315.25 124.01 L315.45 123.13 L315.65 122.18 L315.85 121.14 L316.05 120.02 L316.25 118.82 L316.45 117.55 L316.65 116.2 L316.85 114.79 L317.05 113.3 L317.25 111.75 L317.45 110.13 L317.65 108.46 L317.85 106.73 L318.05 104.94 L318.25 103.1 L318.45 101.22 L318.65 99.29 L318.85 97.32 L319.05 95.32 L319.25 93.28 L319.45 91.21 L319.65 89.11 L319.85 86.99 L320.05 84.86 L320.25 82.71 L320.45 80.55 L320.65 78.38 L320.85 76.21 L321.05 74.04 L321.25 71.87 L321.45 69.71 L321.65 67.57 L321.85 65.44 L322.05 63.34 L322.25 61.25 L322.45 59.2 L322.65 57.18 L322.85 55.19 L323.05 53.24 L323.25 51.33 L323.45 49.47 L323.65 47.66 L323.85 45.9 L324.05 44.2 L324.25 42.55 L324.45 40.97 L324.65 39.45 L324.85 38 L325.05 36.61 L325.25 35.31 L325.45 34.07 L325.65 32.91 L325.85 31.83 L326.05 30.84 L326.25 29.92 L326.45 29.09 L326.65 28.34 L326.85 27.69 L327.05 27.12 L327.25 26.64 L327.45 26.25 L327.65 25.95 L327.85 25.74 L328.05 25.63 L328.25 25.6 L328.45 25.71 L328.65 25.97 L328.85 26.37 L329.05 26.91 L329.25 27.6 L329.45 28.43 L329.65 29.39 L329.85 30.49 L330.05 31.72 L330.25 33.08 L330.45 34.57 L330.65 36.17 L330.85 37.89 L331.05 39.73 L331.25 41.67 L331.45 43.71 L331.65 45.84 L331.85 48.06 L332.05 50.37 L332.25 52.75 L332.45 55.2 L332.65 57.71 L332.85 60.28 L333.05 62.89 L333.25 65.54 L333.45 68.23 L333.65 70.94 L333.85 73.67 L334.05 76.41 L334.25 79.16 L334.45 81.89 L334.65 84.61 L334.85 87.32 L335.05 89.99 L335.25 92.62 L335.45 95.21 L335.65 97.75 L335.85 100.24 L336.05 102.65 L336.25 105 L336.45 107.26 L336.65 109.44 L336.85 111.53 L337.05 113.52 L337.25 115.4 L337.45 117.18 L337.65 118.84 L337.85 120.39 L338.05 121.81 L338.25 123.11 L338.45 124.28 L338.65 125.31 L338.85 126.2 L339.05 126.96 L339.25 127.58 L339.45 128.05 L339.65 128.38 L339.85 128.56 L340.05 128.59 L340.25 128.45 L340.45 128.11 L340.65 127.58 L340.85 126.87 L341.05 125.96 L341.25 124.88 L341.45 123.62 L341.65 122.2 L341.85 120.61 L342.05 118.86 L342.25 116.97 L342.45 114.94 L342.65 112.78 L342.85 110.51 L343.05 108.12 L343.25 105.64 L343.45 103.08 L343.65 100.45 L343.85 97.75 L344.05 95.01 L344.25 92.24 L344.45 89.45 L344.65 86.65 L344.85 83.86 L345.05 81.09 L345.25 78.35 L345.45 75.65 L345.65 73.02 L345.85 70.46 L346.05 67.98 L346.25 65.59 L346.45 63.32 L346.65 61.16 L346.85 59.13 L347.05 57.24 L347.25 55.49 L347.45 53.9 L347.65 52.48 L347.85 51.22 L348.05 50.14 L348.25 49.23 L348.45 48.52 L348.65 47.99 L348.85 47.65 L349.05 47.51 L349.25 47.53 L349.45 47.68 L349.65 47.95 L349.85 48.34 L350.05 48.84 L350.25 49.45 L350.45 50.17 L350.65 51 L350.85 51.93 L351.05 52.96 L351.25 54.08 L351.45 55.28 L351.65 56.56 L351.85 57.92 L352.05 59.34 L352.25 60.81 L352.45 62.34 L352.65 63.91 L352.85 65.52 L353.05 67.15 L353.25 68.79 L353.45 70.45 L353.65 72.11 L353.85 73.75 L354.05 75.38 L354.25 76.99 L354.45 78.56 L354.65 80.09 L354.85 81.56 L355.05 82.98 L355.25 84.34 L355.45 85.62 L355.65 86.82 L355.85 87.94 L356.05 88.97 L356.25 89.9 L356.45 90.73 L356.65 91.45 L356.85 92.06 L357.05 92.56 L357.25 92.95 L357.45 93.22 L357.65 93.37 L357.85 93.4 L358.05 93.35 L358.25 93.25 L358.45 93.08 L358.65 92.86 L358.85 92.58 L359.05 92.25 L359.25 91.86 L359.45 91.42 L359.65 90.93 L359.85 90.39 L360.05 89.81 L360.25 89.19 L360.45 88.53 L360.65 87.84 L360.85 87.12 L361.05 86.37 L361.25 85.61 L361.45 84.82 L361.65 84.02 L361.85 83.21 L362.05 82.4 L362.25 81.59 L362.45 80.78 L362.65 79.98 L362.85 79.19 L363.05 78.43 L363.25 77.68 L363.45 76.96 L363.65 76.27 L363.85 75.61 L364.05 74.99 L364.25 74.41 L364.45 73.87 L364.65 73.38 L364.85 72.94 L365.05 72.55 L365.25 72.22 L365.45 71.94 L365.65 71.72 L365.85 71.55 L366.05 71.45 L366.25 71.4 L366.45 71.41 L366.65 71.44 L366.85 71.51 L367.05 71.6 L367.25 71.71 L367.45 71.86 L367.65 72.03 L367.85 72.22 L368.05 72.44 L368.25 72.68 L368.45 72.95 L368.65 73.23 L368.85 73.53 L369.05 73.85 L369.25 74.18 L369.45 74.53 L369.65 74.89 L369.85 75.26 L370.05 75.64 L370.25 76.02 L370.45 76.41 L370.65 76.8 L370.85 77.19 L371.05 77.58 L371.25 77.96 L371.45 78.34 L371.65 78.71 L371.85 79.07 L372.05 79.42 L372.25 79.75 L372.45 80.07 L372.65 80.37 L372.85 80.65 L373.05 80.92 L373.25 81.16 L373.45 81.38 L373.65 81.57 L373.85 81.74 L374.05 81.89 L374.25 82 L374.45 82.09 L374.65 82.16 L374.85 82.19 L375.05 82.2 L375.25 82.19 L375.45 82.16 L375.65 82.11 L375.85 82.05 L376.05 81.98 L376.25 81.89 L376.45 81.78 L376.65 81.67 L376.85 81.53 L377.05 81.39 L377.25 81.24 L377.45 81.07 L377.65 80.9 L377.85 80.71 L378.05 80.52 L378.25 80.32 L378.45 80.12 L378.65 79.92 L378.85 79.71 L379.05 79.5 L379.25 79.29 L379.45 79.08 L379.65 78.88 L379.85 78.68 L380.05 78.48 L380.25 78.29 L380.45 78.1 L380.65 77.93 L380.85 77.76 L381.05 77.61 L381.25 77.47 L381.45 77.33 L381.65 77.22 L381.85 77.11 L382.05 77.02 L382.25 76.95 L382.45 76.89 L382.65 76.84 L382.85 76.81 L383.05 76.8 L383.25 76.8 L383.45 76.81 L383.65 76.82 L383.85 76.84 L384.05 76.87 L384.25 76.9 L384.45 76.94 L384.65 76.99 L384.85 77.04 L385.05 77.09 L385.25 77.15 L385.45 77.22 L385.65 77.28 L385.85 77.36 L386.05 77.43 L386.25 77.51 L386.45 77.59 L386.65 77.68 L386.85 77.76 L387.05 77.85 L387.25 77.93 L387.45 78.02 L387.65 78.11 L387.85 78.2 L388.05 78.28 L388.25 78.37 L388.45 78.45 L388.65 78.53 L388.85 78.61 L389.05 78.68 L389.25 78.75 L389.45 78.82 L389.65 78.88 L389.85 78.94 L390.05 78.99 L390.25 79.04 L390.45 79.08 L390.65 79.11 L390.85 79.14 L391.05 79.17 L391.25 79.18 L391.45 79.19 L391.65 79.2 L391.85 79.2 L392.05 79.2 L392.25 79.19 L392.45 79.18 L392.65 79.16 L392.85 79.15 L393.05 79.13 L393.25 79.11 L393.45 79.08 L393.65 79.05 L393.85 79.02 L394.05 78.99 L394.25 78.96 L394.45 78.92 L394.65 78.88 L394.85 78.84 L395.05 78.8 L395.25 78.76 L395.45 78.72 L395.65 78.68 L395.85 78.63 L396.05 78.59 L396.25 78.55 L396.45 78.5 L396.65 78.46 L396.85 78.42 L397.05 78.38 L397.25 78.34 L397.45 78.3 L397.65 78.26 L397.85 78.22 L398.05 78.19 L398.25 78.16 L398.45 78.13 L398.65 78.11" stroke="#f00"/>
<path d="M266.25 71.74 L266.45 73.11 L266.65 74.49 L266.85 75.87 L267.05 77.26 L267.25 78.65 L267.45 80.04 L267.65 81.43 L267.85 82.81 L268.05 84.19 L268.25 85.56 L268.45 86.93 L268.65 88.29 L268.85 89.63 L269.05 90.97 L269.25 92.29 L269.45 93.6 L269.65 94.89 L269.85 96.17 L270.05 97.42 L270.25 98.66 L270.45 99.87 L270.65 101.07 L270.85 102.24 L271.05 103.38 L271.25 104.5 L271.45 105.59 L271.65 106.65 L271.85 107.68 L272.05 108.69 L272.25 109.65 L272.45 110.59 L272.65 111.49 L272.85 112.36 L273.05 113.2 L273.25 113.99 L273.45 114.75 L273.65 115.47 L273.85 116.15 L274.05 116.79 L274.25 117.39 L274.45 117.95 L274.65 118.47 L274.85 118.95 L275.05 119.38 L275.25 119.77 L275.45 120.12 L275.65 120.42 L275.85 120.68 L276.05 120.89 L276.25 121.06 L276.45 121.19 L276.65 121.26 L276.85 121.3 L277.05 121.29 L277.25 121.23 L277.45 121.12 L277.65 120.97 L277.85 120.78 L278.05 120.53 L278.25 120.25 L278.45 119.91 L278.65 119.53 L278.85 119.11 L279.05 118.64 L279.25 118.13 L279.45 117.58 L279.65 116.98 L279.85 116.35 L280.05 115.67 L280.25 114.95 L280.45 114.19 L280.65 113.39 L280.85 112.55 L281.05 111.68 L281.25 110.77 L281.45 109.82 L281.65 108.84 L281.85 107.83 L282.05 106.78 L282.25 105.71 L282.45 104.6 L282.65 103.46 L282.85 102.3 L283.05 101.11 L283.25 99.9 L283.45 98.66 L283.65 97.39 L283.85 96.11 L284.05 94.81 L284.25 93.49 L284.45 92.15 L284.65 90.79 L284.85 89.42 L285.05 88.04 L285.25 86.65 L285.45 85.24 L285.65 83.83 L285.85 82.41 L286.05 80.99 L286.25 79.56 L286.45 78.12 L286.65 76.69 L286.85 75.26 L287.05 73.83 L287.25 72.4 L287.45 70.98 L287.65 69.56 L287.85 68.15 L288.05 66.75 L288.25 65.37 L288.45 63.99 L288.65 62.63 L288.85 61.28 L289.05 59.95 L289.25 58.64 L289.45 57.34 L289.65 56.07 L289.85 54.82 L290.05 53.59 L290.25 52.39 L290.45 51.21 L290.65 50.06 L290.85 48.94 L291.05 47.85 L291.25 46.79 L291.45 45.76 L291.65 44.76 L291.85 43.8 L292.05 42.87 L292.25 41.98 L292.45 41.13 L292.65 40.31 L292.85 39.53 L293.05 38.79 L293.25 38.09 L293.45 37.43 L293.65 36.81 L293.85 36.24 L294.05 35.7 L294.25 35.22 L294.45 34.77 L294.65 34.37 L294.85 34.01 L295.05 33.7 L295.25 33.44 L295.45 33.22 L295.65 33.04 L295.85 32.92 L296.05 32.84 L296.25 32.8 L296.45 32.82 L296.65 32.9 L296.85 33.05 L297.05 33.26 L297.25 33.53 L297.45 33.87 L297.65 34.27 L297.85 34.74 L298.05 35.26 L298.25 35.85 L298.45 36.5 L298.65 37.21 L298.85 37.98 L299.05 38.81 L299.25 39.69 L299.45 40.63 L299.65 41.62 L299.85 42.67 L300.05 43.77 L300.25 44.92 L300.45 46.11 L300.65 47.35 L300.85 48.64 L301.05 49.97 L301.25 51.35 L301.45 52.76 L301.65 54.21 L301.85 55.69 L302.05 57.21 L302.25 58.76 L302.45 60.34 L302.65 61.95 L302.85 63.58 L303.05 65.24 L303.25 66.92 L303.45 68.61 L303.65 70.32 L303.85 72.04 L304.05 73.78 L304.25 75.53 L304.45 77.28 L304.65 79.03 L304.85 80.79 L305.05 82.55 L305.25 84.3 L305.45 86.05 L305.65 87.79 L305.85 89.52 L306.05 91.24 L306.25 92.94 L306.45 94.63 L306.65 96.29 L306.85 97.94 L307.05 99.56 L307.25 101.15 L307.45 102.72 L307.65 104.25 L307.85 105.75 L308.05 107.22 L308.25 108.65 L308.45 110.05 L308.65 111.4 L308.85 112.71 L309.05 113.97 L309.25 115.19 L309.45 116.36 L309.65 117.49 L309.85 118.56 L310.05 119.58 L310.25 120.54 L310.45 121.46 L310.65 122.31 L310.85 123.11 L311.05 123.85 L311.25 124.53 L311.45 125.15 L311.65 125.71 L311.85 126.2 L312.05 126.64 L312.25 127.01 L312.45 127.31 L312.65 127.56 L312.85 127.74 L313.05 127.85 L313.25 127.9 L313.45 127.87 L313.65 127.75 L313.85 127.52 L314.05 127.2 L314.25 126.78 L314.45 126.26 L314.65 125.65 L314.85 124.94 L315.05 124.14 L315.25 123.24 L315.45 122.26 L315.65 121.18 L315.85 120.02 L316.05 118.77 L316.25 117.45 L316.45 116.04 L316.65 114.56 L316.85 113 L317.05 111.37 L317.25 109.68 L317.45 107.92 L317.65 106.1 L317.85 104.22 L318.05 102.29 L318.25 100.31 L318.45 98.28 L318.65 96.21 L318.85 94.1 L319.05 91.96 L319.25 89.78 L319.45 87.58 L319.65 85.36 L319.85 83.13 L320.05 80.87 L320.25 78.61 L320.45 76.35 L320.65 74.09 L320.85 71.83 L321.05 69.57 L321.25 67.34 L321.45 65.12 L321.65 62.92 L321.85 60.74 L322.05 58.6 L322.25 56.49 L322.45 54.42 L322.65 52.39 L322.85 50.41 L323.05 48.48 L323.25 46.6 L323.45 44.78 L323.65 43.02 L323.85 41.33 L324.05 39.7 L324.25 38.14 L324.45 36.66 L324.65 35.25 L324.85 33.93 L325.05 32.68 L325.25 31.52 L325.45 30.44 L325.65 29.46 L325.85 28.56 L326.05 27.76 L326.25 27.05 L326.45 26.44 L326.65 25.92 L326.85 25.5 L327.05 25.18 L327.25 24.95 L327.45 24.83 L327.65 24.8 L327.85 24.92 L328.05 25.2 L328.25 25.64 L328.45 26.24 L328.65 26.99 L328.85 27.89 L329.05 28.95 L329.25 30.15 L329.45 31.5 L329.65 32.98 L329.85 34.6 L330.05 36.35 L330.25 38.23 L330.45 40.22 L330.65 42.33 L330.85 44.55 L331.05 46.87 L331.25 49.28 L331.45 51.77 L331.65 54.35 L331.85 56.99 L332.05 59.7 L332.25 62.46 L332.45 65.27 L332.65 68.12 L332.85 71 L333.05 73.9 L333.25 76.81 L333.45 79.72 L333.65 82.63 L333.85 85.52 L334.05 88.39 L334.25 91.23 L334.45 94.03 L334.65 96.78 L334.85 99.48 L335.05 102.1 L335.25 104.66 L335.45 107.14 L335.65 109.52 L335.85 111.81 L336.05 114 L336.25 116.09 L336.45 118.05 L336.65 119.9 L336.85 121.62 L337.05 123.2 L337.25 124.65 L337.45 125.96 L337.65 127.13 L337.85 128.15 L338.05 129.01 L338.25 129.73 L338.45 130.28 L338.65 130.68 L338.85 130.92 L339.05 131 L339.25 130.9 L339.45 130.59 L339.65 130.08 L339.85 129.36 L340.05 128.45 L340.25 127.35 L340.45 126.05 L340.65 124.58 L340.85 122.92 L341.05 121.1 L341.25 119.12 L341.45 116.99 L341.65 114.71 L341.85 112.31 L342.05 109.78 L342.25 107.15 L342.45 104.43 L342.65 101.61 L342.85 98.73 L343.05 95.8 L343.25 92.82 L343.45 89.8 L343.65 86.78 L343.85 83.75 L344.05 80.74 L344.25 77.75 L344.45 74.8 L344.65 71.9 L344.85 69.07 L345.05 66.32 L345.25 63.66 L345.45 61.11 L345.65 58.68 L345.85 56.37 L346.05 54.2 L346.25 52.18 L346.45 50.32 L346.65 48.62 L346.85 47.1 L347.05 45.76 L347.25 44.61 L347.45 43.65 L347.65 42.88 L347.85 42.32 L348.05 41.96 L348.25 41.81 L348.45 41.84 L348.65 42.02 L348.85 42.34 L349.05 42.8 L349.25 43.4 L349.45 44.14 L349.65 45.01 L349.85 46 L350.05 47.12 L350.25 48.35 L350.45 49.69 L350.65 51.14 L350.85 52.68 L351.05 54.31 L351.25 56.02 L351.45 57.8 L351.65 59.64 L351.85 61.54 L352.05 63.48 L352.25 65.45 L352.45 67.44 L352.65 69.45 L352.85 71.46 L353.05 73.46 L353.25 75.44 L353.45 77.4 L353.65 79.32 L353.85 81.19 L354.05 83 L354.25 84.74 L354.45 86.41 L354.65 88 L354.85 89.5 L355.05 90.89 L355.25 92.18 L355.45 93.36 L355.65 94.41 L355.85 95.34 L356.05 96.15 L356.25 96.81 L356.45 97.35 L356.65 97.74 L356.85 97.99 L357.05 98.1 L357.25 98.08 L357.45 97.98 L357.65 97.81 L357.85 97.57 L358.05 97.25 L358.25 96.86 L358.45 96.4 L358.65 95.88 L358.85 95.29 L359.05 94.63 L359.25 93.93 L359.45 93.16 L359.65 92.35 L359.85 91.49 L360.05 90.6 L360.25 89.66 L360.45 88.7 L360.65 87.71 L360.85 86.69 L361.05 85.67 L361.25 84.63 L361.45 83.59 L361.65 82.55 L361.85 81.52 L362.05 80.5 L362.25 79.5 L362.45 78.52 L362.65 77.57 L362.85 76.65 L363.05 75.77 L363.25 74.94 L363.45 74.15 L363.65 73.41 L363.85 72.73 L364.05 72.11 L364.25 71.55 L364.45 71.06 L364.65 70.64 L364.85 70.28 L365.05 70 L365.25 69.79 L365.45 69.66 L365.65 69.6 L365.85 69.61 L366.05 69.65 L366.25 69.73 L366.45 69.84 L366.65 69.98 L366.85 70.16 L367.05 70.37 L367.25 70.61 L367.45 70.87 L367.65 71.17 L367.85 71.49 L368.05 71.84 L368.25 72.21 L368.45 72.6 L368.65 73 L368.85 73.43 L369.05 73.87 L369.25 74.32 L369.45 74.78 L369.65 75.25 L369.85 75.72 L370.05 76.2 L370.25 76.68 L370.45 77.15 L370.65 77.62 L370.85 78.08 L371.05 78.53 L371.25 78.97 L371.45 79.4 L371.65 79.8 L371.85 80.19 L372.05 80.56 L372.25 80.91 L372.45 81.23 L372.65 81.53 L372.85 81.79 L373.05 82.03 L373.25 82.24 L373.45 82.42 L373.65 82.56 L373.85 82.67 L374.05 82.75 L374.25 82.79 L374.45 82.8 L374.65 82.79 L374.85 82.76 L375.05 82.71 L375.25 82.65 L375.45 82.57 L375.65 82.48 L375.85 82.37 L376.05 82.24 L376.25 82.1 L376.45 81.95 L376.65 81.79 L376.85 81.61 L377.05 81.43 L377.25 81.23 L377.45 81.03 L377.65 80.82 L377.85 80.6 L378.05 80.38 L378.25 80.16 L378.45 79.93 L378.65 79.7 L378.85 79.47 L379.05 79.24 L379.25 79.02 L379.45 78.8 L379.65 78.58 L379.85 78.37 L380.05 78.17 L380.25 77.97 L380.45 77.79 L380.65 77.61 L380.85 77.45 L381.05 77.3 L381.25 77.16 L381.45 77.03 L381.65 76.92 L381.85 76.83 L382.05 76.75 L382.25 76.69 L382.45 76.64 L382.65 76.61 L382.85 76.6 L383.05 76.6 L383.25 76.61 L383.45 76.63 L383.65 76.65 L383.85 76.68 L384.05 76.71 L384.25 76.76 L384.45 76.81 L384.65 76.86 L384.85 76.92 L385.05 76.99 L385.25 77.06 L385.45 77.13 L385.65 77.21 L385.85 77.3 L386.05 77.38 L386.25 77.47 L386.45 77.57 L386.65 77.66 L386.85 77.76 L387.05 77.85 L387.25 77.95 L387.45 78.05 L387.65 78.14 L387.85 78.24 L388.05 78.33 L388.25 78.43 L388.45 78.52 L388.65 78.6 L388.85 78.69 L389.05 78.77 L389.25 78.84 L389.45 78.91 L389.65 78.98 L389.85 79.04 L390.05 79.09 L390.25 79.14 L390.45 79.19 L390.65 79.22 L390.85 79.25 L391.05 79.27 L391.25 79.29 L391.45 79.3 L391.65 79.3 L391.85 79.3 L392.05 79.29 L392.25 79.28 L392.45 79.27 L392.65 79.25 L392.85 79.23 L393.05 79.21 L393.25 79.19 L393.45 79.16 L393.65 79.13 L393.85 79.1 L394.05 79.06 L394.25 79.02 L394.45 78.99 L394.65 78.94 L394.85 78.9 L395.05 78.86 L395.25 78.81 L395.45 78.77 L395.65 78.72 L395.85 78.67 L396.05 78.63 L396.25 78.58 L396.45 78.53 L396.65 78.49 L396.85 78.44 L397.05 78.4 L397.25 78.36 L397.45 78.31 L397.65 78.28 L397.85 78.24 L398.05 78.2 L398.25 78.17 L398.45 78.14 L398.65 78.11" stroke="#00f"/>
</g>
<g clip-path="url(#cBL)" stroke-width="1.85">
<path d="M39.3 223.33 L39.8 223.18 L40.3 223.04 L40.8 222.91 L41.3 222.77 L41.8 222.63 L42.3 222.5 L42.8 222.37 L43.3 222.24 L43.8 222.1 L44.3 221.97 L44.8 221.84 L45.3 221.71 L45.8 221.58 L46.3 221.45 L46.8 221.32 L47.3 221.18 L47.8 221.05 L48.3 220.91 L48.8 220.78 L49.3 220.64 L49.8 220.5 L50.3 220.36 L50.8 220.22 L51.3 220.08 L51.8 219.93 L52.3 219.79 L52.8 219.65 L53.3 219.51 L53.8 219.36 L54.3 219.22 L54.8 219.07 L55.3 218.93 L55.8 218.78 L56.3 218.63 L56.8 218.48 L57.3 218.34 L57.8 218.19 L58.3 218.03 L58.8 217.88 L59.3 217.73 L59.8 217.58 L60.3 217.42 L60.8 217.27 L61.3 217.11 L61.8 216.95 L62.3 216.79 L62.8 216.63 L63.3 216.47 L63.8 216.3 L64.3 216.13 L64.8 215.96 L65.3 215.79 L65.8 215.61 L66.3 215.43 L66.8 215.25 L67.3 215.07 L67.8 214.88 L68.3 214.69 L68.8 214.51 L69.3 214.32 L69.8 214.13 L70.3 213.94 L70.8 213.75 L71.3 213.56 L71.8 213.37 L72.3 213.18 L72.8 212.99 L73.3 212.81 L73.8 212.62 L74.3 212.44 L74.8 212.26 L75.3 212.08 L75.8 211.91 L76.3 211.73 L76.8 211.57 L77.3 211.4 L77.8 211.24 L78.3 211.07 L78.8 210.91 L79.3 210.75 L79.8 210.59 L80.3 210.43 L80.8 210.27 L81.3 210.11 L81.8 209.96 L82.3 209.8 L82.8 209.64 L83.3 209.49 L83.8 209.34 L84.3 209.19 L84.8 209.04 L85.3 208.89 L85.8 208.74 L86.3 208.59 L86.8 208.45 L87.3 208.31 L87.8 208.17 L88.3 208.03 L88.8 207.89 L89.3 207.75 L89.8 207.62 L90.3 207.48 L90.8 207.35 L91.3 207.22 L91.8 207.09 L92.3 206.95 L92.8 206.81 L93.3 206.67 L93.8 206.54 L94.3 206.4 L94.8 206.27 L95.3 206.15 L95.8 206.03 L96.3 205.92 L96.8 205.82 L97.3 205.73 L97.8 205.66 L98.3 205.6 L98.8 205.55 L99.3 205.5 L99.8 205.45 L100.3 205.4 L100.8 205.35 L101.3 205.31 L101.8 205.26 L102.3 205.22 L102.8 205.18 L103.3 205.14 L103.8 205.11 L104.3 205.07 L104.8 205.04 L105.3 205.01 L105.8 204.99 L106.3 204.97 L106.8 204.95 L107.3 204.93 L107.8 204.92 L108.3 204.91 L108.8 204.9 L109.3 204.9 L109.8 204.91 L110.3 204.93 L110.8 204.96 L111.3 205 L111.8 205.05 L112.3 205.11 L112.8 205.17 L113.3 205.25 L113.8 205.33 L114.3 205.41 L114.8 205.5 L115.3 205.59 L115.8 205.68 L116.3 205.78 L116.8 205.87 L117.3 205.96 L117.8 206.06 L118.3 206.16 L118.8 206.27 L119.3 206.39 L119.8 206.51 L120.3 206.65 L120.8 206.79 L121.3 206.93 L121.8 207.08 L122.3 207.24 L122.8 207.4 L123.3 207.56 L123.8 207.72 L124.3 207.89 L124.8 208.06 L125.3 208.23 L125.8 208.4 L126.3 208.57 L126.8 208.75 L127.3 208.93 L127.8 209.12 L128.3 209.32 L128.8 209.51 L129.3 209.72 L129.8 209.92 L130.3 210.13 L130.8 210.35 L131.3 210.56 L131.8 210.79 L132.3 211.01 L132.8 211.24 L133.3 211.47 L133.8 211.71 L134.3 211.94 L134.8 212.19 L135.3 212.43 L135.8 212.69 L136.3 212.95 L136.8 213.21 L137.3 213.48 L137.8 213.75 L138.3 214.03 L138.8 214.31 L139.3 214.6 L139.8 214.89 L140.3 215.18 L140.8 215.48 L141.3 215.78 L141.8 216.09 L142.3 216.4 L142.8 216.72 L143.3 217.05 L143.8 217.4 L144.3 217.75 L144.8 218.12 L145.3 218.49 L145.8 218.86 L146.3 219.24 L146.8 219.61 L147.3 219.99 L147.8 220.36 L148.3 220.72 L148.8 221.08 L149.3 221.43 L149.8 221.77 L150.3 222.09 L150.8 222.41 L151.3 222.72 L151.8 223.02 L152.3 223.32 L152.8 223.61 L153.3 223.89 L153.8 224.18 L154.3 224.46 L154.8 224.74 L155.3 225.03 L155.8 225.32 L156.3 225.6 L156.8 225.9 L157.3 226.2 L157.8 226.5 L158.3 226.81 L158.8 227.14 L159.3 227.47 L159.8 227.81 L160.3 228.16 L160.8 228.52 L161.3 228.88 L161.8 229.26 L162.3 229.64 L162.8 230.02 L163.3 230.41 L163.8 230.8 L164.3 231.19 L164.8 231.58 L165.3 231.98 L165.8 232.37 L166.3 232.76 L166.8 233.15 L167.3 233.54 L167.8 233.92 L168.3 234.3 L168.8 234.67 L169.3 235.05 L169.8 235.42 L170.3 235.8 L170.8 236.17 L171.3 236.54 L171.8 236.91 L172.3 237.28 L172.8 237.66 L173.3 238.03 L173.8 238.4 L174.3 238.76 L174.8 239.13 L175.3 239.5 L175.8 239.86 L176.3 240.23 L176.8 240.59 L177.3 240.96 L177.8 241.32 L178.3 241.67 L178.8 242.02 L179.3 242.36 L179.8 242.7 L180.3 243.04 L180.8 243.37 L181.3 243.71 L181.8 244.04 L182.3 244.38 L182.8 244.72 L183.3 245.07 L183.8 245.42 L184.3 245.77 L184.8 246.14 L185.3 246.51 L185.8 246.89 L186.3 247.28 L186.8 247.68 L187.3 248.11 L187.8 248.55 L188.3 249.01 L188.8 249.49 L189.3 249.98 L189.8 250.48 L190.3 250.97 L190.8 251.47 L191.3 251.96 L191.8 252.44 L192.3 252.91 L192.8 253.37 L193.3 253.8 L193.8 254.22 L194.3 254.63 L194.8 255.03 L195.3 255.43 L195.8 255.82 L196.3 256.21 L196.8 256.59 L197.3 256.96 L197.8 257.33 L198.3 257.7 L198.8 258.06 L199.3 258.43 L199.8 258.79 L200.3 259.14 L200.8 259.48 L201.3 259.8 L201.8 260.11 L202.3 260.42 L202.8 260.72 L203.3 261.03 L203.8 261.36 L204.3 261.7 L204.8 262.06 L205.3 262.45 L205.8 262.88 L206.3 263.36 L206.8 263.89 L207.3 264.46 L207.8 265.07 L208.3 265.71 L208.8 266.37 L209.3 267.03 L209.8 267.7 L210.3 268.36 L210.8 269.01 L211.3 269.64 L211.8 270.23 L212.3 270.79 L212.8 271.3 L213.3 271.77 L213.8 272.21 L214.3 272.63 L214.8 273.04 L215.3 273.44 L215.8 273.86 L216.3 274.28 L216.8 274.74 L217.3 275.23 L217.8 275.77 L218.3 276.37 L218.8 277.04 L219.3 277.78 L219.8 278.57 L220.3 279.41 L220.8 280.27 L221.3 281.14 L221.8 282.01 L222.3 282.87 L222.8 283.74 L223.3 284.63 L223.8 285.53 L224.3 286.45 L224.8 287.38 L225.3 288.32 L225.8 289.26 L226.3 290.2 L226.8 291.15 L227.3 292.1 L227.8 293.06 L228.3 294.03 L228.8 295.01 L229.3 296 L229.8 297 L230.3 298.02 L230.8 299.04 L231.3 300.08" stroke="#0ff" stroke-dasharray="8 3.2"/>
<path d="M39.3 219.1 L39.8 218.82 L40.3 218.7 L40.8 218.33 L41.3 218.52 L41.8 218.45 L42.3 218.43 L42.8 218.28 L43.3 218.32 L43.8 218.19 L44.3 218 L44.8 218.3 L45.3 218.25 L45.8 218.33 L46.3 218.02 L46.8 217.9 L47.3 217.84 L47.8 217.64 L48.3 218.01 L48.8 217.64 L49.3 217.6 L49.8 217.73 L50.3 217.98 L50.8 217.76 L51.3 217.55 L51.8 217.59 L52.3 217.8 L52.8 217.67 L53.3 217.58 L53.8 217.66 L54.3 217.82 L54.8 218.02 L55.3 217.5 L55.8 217.6 L56.3 217.57 L56.8 217.31 L57.3 217.55 L57.8 217.54 L58.3 217.88 L58.8 217.68 L59.3 217.44 L59.8 217.8 L60.3 217.64 L60.8 217.42 L61.3 217.6 L61.8 217.61 L62.3 217.56 L62.8 217.7 L63.3 217.34 L63.8 217.66 L64.3 217.86 L64.8 217.84 L65.3 217.88 L65.8 217.88 L66.3 217.94 L66.8 217.52 L67.3 217.85 L67.8 217.43 L68.3 217.65 L68.8 217.46 L69.3 217.96 L69.8 218.04 L70.3 217.83 L70.8 218.18 L71.3 217.82 L71.8 218 L72.3 218.04 L72.8 217.88 L73.3 218.17 L73.8 218.45 L74.3 218.02 L74.8 218.37 L75.3 218.24 L75.8 218.58 L76.3 218.41 L76.8 218.48 L77.3 218.5 L77.8 218.47 L78.3 218.23 L78.8 218.71 L79.3 218.29 L79.8 218.58 L80.3 218.66 L80.8 218.46 L81.3 218.64 L81.8 218.83 L82.3 218.66 L82.8 218.55 L83.3 218.25 L83.8 218.59 L84.3 218.67 L84.8 218.71 L85.3 218.66 L85.8 218.9 L86.3 218.77 L86.8 218.87 L87.3 219.02 L87.8 218.8 L88.3 218.92 L88.8 219.33 L89.3 219.15 L89.8 218.83 L90.3 219.05 L90.8 219.18 L91.3 219.31 L91.8 219.16 L92.3 219.08 L92.8 219.07 L93.3 219.32 L93.8 219.29 L94.3 219.18 L94.8 219.26 L95.3 219.25 L95.8 219.46 L96.3 219.25 L96.8 219.47 L97.3 219.55 L97.8 219.51 L98.3 219.33 L98.8 219.7 L99.3 219.4 L99.8 219.6 L100.3 219.44 L100.8 219.3 L101.3 219.64 L101.8 219.68 L102.3 219.65 L102.8 219.73 L103.3 219.6 L103.8 219.62 L104.3 219.73 L104.8 220.09 L105.3 219.94 L105.8 219.75 L106.3 219.95 L106.8 219.81 L107.3 219.84 L107.8 220.08 L108.3 219.89 L108.8 219.73 L109.3 219.88 L109.8 220.07 L110.3 220.1 L110.8 220.31 L111.3 220.03 L111.8 220.29 L112.3 220.27 L112.8 220.21 L113.3 220.41 L113.8 220.39 L114.3 220.21 L114.8 220.55 L115.3 220.22 L115.8 220.46 L116.3 220.49 L116.8 220.59 L117.3 220.45 L117.8 220.59 L118.3 220.61 L118.8 220.83 L119.3 220.58 L119.8 220.75 L120.3 220.73 L120.8 220.6 L121.3 221.27 L121.8 220.86 L122.3 220.66 L122.8 221.15 L123.3 220.78 L123.8 221.03 L124.3 221.13 L124.8 220.91 L125.3 220.97 L125.8 220.97 L126.3 221.05 L126.8 220.83 L127.3 220.91 L127.8 221.1 L128.3 221.3 L128.8 221.25 L129.3 221.44 L129.8 221.29 L130.3 221.11 L130.8 221.19 L131.3 220.9 L131.8 221.08 L132.3 221.08 L132.8 221.3 L133.3 221.37 L133.8 221.19 L134.3 221.2 L134.8 221.06 L135.3 221.29 L135.8 221.37 L136.3 221.41 L136.8 221.23 L137.3 221.68 L137.8 221.57 L138.3 221.37 L138.8 221.32 L139.3 221.36 L139.8 221.45 L140.3 221.44 L140.8 221.53 L141.3 221.59 L141.8 221.7 L142.3 221.68 L142.8 221.5 L143.3 221.6 L143.8 221.49 L144.3 221.48 L144.8 221.9 L145.3 221.54 L145.8 221.96 L146.3 221.61 L146.8 221.73 L147.3 221.9 L147.8 221.76 L148.3 221.85 L148.8 221.79 L149.3 221.78 L149.8 221.87 L150.3 221.83 L150.8 222.23 L151.3 221.97 L151.8 222.31 L152.3 221.64 L152.8 222.1 L153.3 222.22 L153.8 222.1 L154.3 222.35 L154.8 222.3 L155.3 222.17 L155.8 222.3 L156.3 222.69 L156.8 222.3 L157.3 222.32 L157.8 222.21 L158.3 222.32 L158.8 222.11 L159.3 222.29 L159.8 222.73 L160.3 222.52 L160.8 222.46 L161.3 222.55 L161.8 222.68 L162.3 222.49 L162.8 222.74 L163.3 222.59 L163.8 222.45 L164.3 222.71 L164.8 222.07 L165.3 222.36 L165.8 222.51 L166.3 222.33 L166.8 222.46 L167.3 222.39 L167.8 222.39 L168.3 222.94 L168.8 222.62 L169.3 222.51 L169.8 222.74 L170.3 222.5 L170.8 222.69 L171.3 222.61 L171.8 222.82 L172.3 222.34 L172.8 222.7 L173.3 222.61 L173.8 222.41 L174.3 222.77 L174.8 222.47 L175.3 222.88 L175.8 222.71 L176.3 222.74 L176.8 222.65 L177.3 222.79 L177.8 222.36 L178.3 222.68 L178.8 222.57 L179.3 222.73 L179.8 222.69 L180.3 222.8 L180.8 222.58 L181.3 223.02 L181.8 223.1 L182.3 222.71 L182.8 222.75 L183.3 222.81 L183.8 222.97 L184.3 223.09 L184.8 222.6 L185.3 222.71 L185.8 222.65 L186.3 222.65 L186.8 222.58 L187.3 222.92 L187.8 222.69 L188.3 223.13 L188.8 223.04 L189.3 222.75 L189.8 222.76 L190.3 222.84 L190.8 223.18 L191.3 222.83 L191.8 222.75 L192.3 222.99 L192.8 223.07 L193.3 222.92 L193.8 223.3 L194.3 223.09 L194.8 223.14 L195.3 222.94 L195.8 223.09 L196.3 223.08 L196.8 222.76 L197.3 223.18 L197.8 222.86 L198.3 223.15 L198.8 222.93 L199.3 223.5 L199.8 223.24 L200.3 223.33 L200.8 223.35 L201.3 223.01 L201.8 222.86 L202.3 223.19 L202.8 223.4 L203.3 223.28 L203.8 223.41 L204.3 223.45 L204.8 223.08 L205.3 223.38 L205.8 223.67 L206.3 223.29 L206.8 223.08 L207.3 223.39 L207.8 223.38 L208.3 223.54 L208.8 223.36 L209.3 223.55 L209.8 223.21 L210.3 223.73 L210.8 223.87 L211.3 223.86 L211.8 223.44 L212.3 223.76 L212.8 223.26 L213.3 223.81 L213.8 223.78 L214.3 223.66 L214.8 223.9 L215.3 223.9 L215.8 224.05 L216.3 223.95 L216.8 223.99 L217.3 221.47 L217.8 223.82 L218.3 223.96 L218.8 224.11 L219.3 224.09 L219.8 224.36 L220.3 224.01 L220.8 224.15 L221.3 224.26 L221.8 226.42 L222.3 222.18 L222.8 224.25 L223.3 224.61 L223.8 224.38 L224.3 224.66 L224.8 222.34 L225.3 224.85 L225.8 224.46 L226.3 224.84 L226.8 224.77 L227.3 224.96 L227.8 225.2 L228.3 227.12 L228.8 224.98 L229.3 225.13 L229.8 225.43 L230.3 225.19 L230.8 225.61 L231.3 225.49 L231.8 225.62 L232.3 225.85 L232.8 228.27 L233.3 226.03 L233.8 226.17 L234.3 226.36 L234.8 226.45 L235.3 226.2 L235.8 226.69 L236.3 226.91 L236.8 227.22 L237.3 227.53 L237.8 227.47 L238.3 227.54 L238.8 227.56 L239.3 227.91 L239.8 226.02 L240.3 228.5 L240.8 228.36 L241.3 228.75 L241.8 229.06 L242.3 229.45 L242.8 229.42 L243.3 229.51 L243.8 229.71 L244.3 229.99 L244.8 230.16 L245.3 230.62 L245.8 230.88 L246.3 231.05 L246.8 231.35 L247.3 231.33 L247.8 231.71 L248.3 231.84 L248.8 232.18 L249.3 232.66 L249.8 232.76 L250.3 232.79 L250.8 233.41 L251.3 233.73 L251.8 234.01 L252.3 234.55" stroke="#ffa500" stroke-width="1.55" stroke-dasharray="8.5 3.8"/>
</g>
<g clip-path="url(#cBR)" stroke-width="1.85" stroke-dasharray="9.2 3.8">
<path d="M266.25 185.43 L266.75 185.53 L267.25 185.63 L267.75 185.73 L268.25 185.83 L268.75 185.94 L269.25 186.05 L269.75 186.16 L270.25 186.27 L270.75 186.38 L271.25 186.49 L271.75 186.61 L272.25 186.73 L272.75 186.85 L273.25 186.97 L273.75 187.09 L274.25 187.21 L274.75 187.33 L275.25 187.46 L275.75 187.59 L276.25 187.72 L276.75 187.85 L277.25 187.98 L277.75 188.11 L278.25 188.25 L278.75 188.38 L279.25 188.52 L279.75 188.66 L280.25 188.81 L280.75 188.95 L281.25 189.1 L281.75 189.25 L282.25 189.4 L282.75 189.55 L283.25 189.71 L283.75 189.86 L284.25 190.02 L284.75 190.19 L285.25 190.35 L285.75 190.52 L286.25 190.68 L286.75 190.85 L287.25 191.03 L287.75 191.2 L288.25 191.38 L288.75 191.55 L289.25 191.74 L289.75 191.92 L290.25 192.11 L290.75 192.3 L291.25 192.5 L291.75 192.7 L292.25 192.9 L292.75 193.11 L293.25 193.32 L293.75 193.54 L294.25 193.76 L294.75 193.98 L295.25 194.22 L295.75 194.46 L296.25 194.71 L296.75 194.96 L297.25 195.22 L297.75 195.49 L298.25 195.77 L298.75 196.05 L299.25 196.34 L299.75 196.64 L300.25 196.94 L300.75 197.25 L301.25 197.56 L301.75 197.88 L302.25 198.2 L302.75 198.53 L303.25 198.87 L303.75 199.21 L304.25 199.55 L304.75 199.91 L305.25 200.28 L305.75 200.65 L306.25 201.04 L306.75 201.43 L307.25 201.83 L307.75 202.24 L308.25 202.66 L308.75 203.09 L309.25 203.53 L309.75 203.99 L310.25 204.45 L310.75 204.92 L311.25 205.42 L311.75 205.92 L312.25 206.45 L312.75 206.99 L313.25 207.54 L313.75 208.1 L314.25 208.68 L314.75 209.26 L315.25 209.86 L315.75 210.46 L316.25 211.07 L316.75 211.69 L317.25 212.31 L317.75 212.92 L318.25 213.53 L318.75 214.15 L319.25 214.8 L319.75 215.48 L320.25 216.22 L320.75 217.01 L321.25 217.89 L321.75 218.9 L322.25 220.06 L322.75 221.34 L323.25 222.71 L323.75 224.14 L324.25 225.6 L324.75 227.07 L325.25 228.52 L325.75 230.01 L326.25 231.53 L326.75 233.09 L327.25 234.69 L327.75 236.33 L328.25 238.01 L328.75 239.73 L329.25 241.5 L329.75 243.32 L330.25 245.23 L330.75 247.23 L331.25 249.28 L331.75 251.37 L332.25 253.48 L332.75 255.58 L333.25 257.67 L333.75 259.82 L334.25 261.99 L334.75 264.17 L335.25 266.33 L335.75 268.45 L336.25 270.5 L336.75 272.52 L337.25 274.6 L337.75 276.69 L338.25 278.71 L338.75 280.59 L339.25 282.24 L339.75 283.58 L340.25 284.69 L340.75 285.72 L341.25 286.67 L341.75 287.51 L342.25 288.25 L342.75 288.87 L343.25 289.36 L343.75 289.76 L344.25 290.15 L344.75 290.49 L345.25 290.77 L345.75 290.94 L346.25 291 L346.75 290.9 L347.25 290.68 L347.75 290.34 L348.25 289.94 L348.75 289.49 L349.25 289.02 L349.75 288.58 L350.25 288.18 L350.75 287.75 L351.25 287.27 L351.75 286.77 L352.25 286.26 L352.75 285.76 L353.25 285.3 L353.75 284.89 L354.25 284.56 L354.75 284.32 L355.25 284.16 L355.75 284.06 L356.25 283.97 L356.75 283.88 L357.25 283.77 L357.75 283.62 L358.25 283.29 L358.75 282.71 L359.25 282.01 L359.75 281.35 L360.25 280.87 L360.75 280.7 L361.25 280.72 L361.75 280.76 L362.25 280.82 L362.75 280.89 L363.25 280.96 L363.75 281.03 L364.25 281.07 L364.75 281.1 L365.25 281.07 L365.75 280.95 L366.25 280.76 L366.75 280.52 L367.25 280.25 L367.75 279.98 L368.25 279.68 L368.75 279.26 L369.25 278.78 L369.75 278.3 L370.25 277.88 L370.75 277.59 L371.25 277.5 L371.75 277.63 L372.25 277.93 L372.75 278.35 L373.25 278.85 L373.75 279.35 L374.25 279.83 L374.75 280.21 L375.25 280.45 L375.75 280.48 L376.25 280.19 L376.75 279.63 L377.25 278.92 L377.75 278.18 L378.25 277.52 L378.75 277.05 L379.25 276.9 L379.75 277.08 L380.25 277.47 L380.75 277.94 L381.25 278.38 L381.75 278.66 L382.25 278.7 L382.75 278.67 L383.25 278.62 L383.75 278.54 L384.25 278.45 L384.75 278.35 L385.25 278.23 L385.75 278.11 L386.25 277.92 L386.75 277.6 L387.25 277.26 L387.75 276.99 L388.25 276.9 L388.75 277.11 L389.25 277.59 L389.75 278.25 L390.25 279 L390.75 279.75 L391.25 280.41 L391.75 280.89 L392.25 281.1 L392.75 280.89 L393.25 280.29 L393.75 279.44 L394.25 278.54 L394.75 277.74 L395.25 277.23 L395.75 276.96 L396.25 276.72 L396.75 276.49 L397.25 276.3 L397.75 276.15 L398.25 276.05" stroke="#0ff"/>
<path d="M266.25 176.3 L266.75 176.31 L267.25 176.32 L267.75 176.32 L268.25 176.33 L268.75 176.34 L269.25 176.35 L269.75 176.36 L270.25 176.37 L270.75 176.38 L271.25 176.39 L271.75 176.4 L272.25 176.41 L272.75 176.42 L273.25 176.44 L273.75 176.45 L274.25 176.46 L274.75 176.47 L275.25 176.49 L275.75 176.5 L276.25 176.51 L276.75 176.53 L277.25 176.54 L277.75 176.55 L278.25 176.57 L278.75 176.58 L279.25 176.6 L279.75 176.61 L280.25 176.63 L280.75 176.64 L281.25 176.66 L281.75 176.67 L282.25 176.69 L282.75 176.7 L283.25 176.72 L283.75 176.74 L284.25 176.75 L284.75 176.77 L285.25 176.79 L285.75 176.81 L286.25 176.82 L286.75 176.84 L287.25 176.86 L287.75 176.88 L288.25 176.9 L288.75 176.92 L289.25 176.94 L289.75 176.96 L290.25 176.99 L290.75 177.01 L291.25 177.03 L291.75 177.06 L292.25 177.08 L292.75 177.1 L293.25 177.13 L293.75 177.15 L294.25 177.18 L294.75 177.21 L295.25 177.23 L295.75 177.26 L296.25 177.29 L296.75 177.32 L297.25 177.35 L297.75 177.38 L298.25 177.41 L298.75 177.45 L299.25 177.48 L299.75 177.52 L300.25 177.56 L300.75 177.59 L301.25 177.63 L301.75 177.67 L302.25 177.71 L302.75 177.75 L303.25 177.8 L303.75 177.84 L304.25 177.89 L304.75 177.93 L305.25 177.98 L305.75 178.03 L306.25 178.08 L306.75 178.13 L307.25 178.18 L307.75 178.23 L308.25 178.28 L308.75 178.34 L309.25 178.39 L309.75 178.45 L310.25 178.51 L310.75 178.56 L311.25 178.63 L311.75 178.69 L312.25 178.75 L312.75 178.82 L313.25 178.89 L313.75 178.96 L314.25 179.04 L314.75 179.12 L315.25 179.2 L315.75 179.28 L316.25 179.36 L316.75 179.45 L317.25 179.53 L317.75 179.62 L318.25 179.71 L318.75 179.81 L319.25 179.9 L319.75 180 L320.25 180.1 L320.75 180.21 L321.25 180.31 L321.75 180.43 L322.25 180.56 L322.75 180.71 L323.25 180.87 L323.75 181.02 L324.25 181.17 L324.75 181.32 L325.25 181.45 L325.75 181.55 L326.25 181.64 L326.75 181.73 L327.25 181.82 L327.75 181.9 L328.25 181.97 L328.75 182.03 L329.25 182.07 L329.75 182.1 L330.25 182.09 L330.75 182.05 L331.25 181.96 L331.75 181.83 L332.25 181.67 L332.75 181.48 L333.25 181.26 L333.75 181.02 L334.25 180.74 L334.75 180.28 L335.25 179.67 L335.75 178.96 L336.25 178.22 L336.75 177.42 L337.25 176.46 L337.75 175.56 L338.25 174.87 L338.75 174.3 L339.25 174.27 L339.75 174.71 L340.25 175.38 L340.75 176.61 L341.25 178.15 L341.75 179.67 L342.25 181.29 L342.75 182.98 L343.25 184.73 L343.75 186.56 L344.25 188.51 L344.75 190.56 L345.25 192.64 L345.75 194.7 L346.25 196.68 L346.75 198.63 L347.25 200.56 L347.75 202.47 L348.25 204.36 L348.75 206.26 L349.25 208.27 L349.75 210.27 L350.25 212.13 L350.75 213.71 L351.25 214.93 L351.75 216.01 L352.25 216.97 L352.75 217.84 L353.25 218.66 L353.75 219.45 L354.25 220.24 L354.75 221 L355.25 221.74 L355.75 222.44 L356.25 223.11 L356.75 223.75 L357.25 224.36 L357.75 225 L358.25 225.69 L358.75 226.36 L359.25 226.98 L359.75 227.47 L360.25 227.8 L360.75 227.9 L361.25 227.81 L361.75 227.62 L362.25 227.38 L362.75 227.14 L363.25 226.96 L363.75 226.9 L364.25 227.03 L364.75 227.34 L365.25 227.76 L365.75 228.25 L366.25 228.74 L366.75 229.19 L367.25 229.52 L367.75 229.69 L368.25 229.68 L368.75 229.58 L369.25 229.42 L369.75 229.23 L370.25 229.03 L370.75 228.85 L371.25 228.68 L371.75 228.49 L372.25 228.29 L372.75 228.11 L373.25 227.98 L373.75 227.9 L374.25 227.97 L374.75 228.25 L375.25 228.64 L375.75 229.02 L376.25 229.26 L376.75 229.3 L377.25 229.3 L377.75 229.3 L378.25 229.3 L378.75 229.3 L379.25 229.3 L379.75 229.15 L380.25 228.82 L380.75 228.41 L381.25 228 L381.75 227.7 L382.25 227.6 L382.75 227.75 L383.25 228.09 L383.75 228.55 L384.25 229.05 L384.75 229.51 L385.25 229.85 L385.75 230 L386.25 229.93 L386.75 229.73 L387.25 229.42 L387.75 229.06 L388.25 228.69 L388.75 228.35 L389.25 228.08 L389.75 227.92 L390.25 227.93 L390.75 228.11 L391.25 228.42 L391.75 228.81 L392.25 229.23 L392.75 229.6 L393.25 229.95 L393.75 230.35 L394.25 230.75 L394.75 231.06 L395.25 231.2 L395.75 231.1 L396.25 230.79 L396.75 230.39 L397.25 229.98 L397.75 229.68 L398.25 229.45" stroke="#ffa500"/>
</g>
</g>
<path d="M72.11 139.45 v-4.4 M137.72 139.45 v-4.4 M203.34 139.45 v-4.4 M45.86 139.45 v-2.3 M58.98 139.45 v-2.3 M85.23 139.45 v-2.3 M98.35 139.45 v-2.3 M111.48 139.45 v-2.3 M124.6 139.45 v-2.3 M150.85 139.45 v-2.3 M163.97 139.45 v-2.3 M177.09 139.45 v-2.3 M190.22 139.45 v-2.3 M216.46 139.45 v-2.3 M229.58 139.45 v-2.3 M242.71 139.45 v-2.3 M72.11 17.6 v4.4 M137.72 17.6 v4.4 M203.34 17.6 v4.4 M45.86 17.6 v2.3 M58.98 17.6 v2.3 M85.23 17.6 v2.3 M98.35 17.6 v2.3 M111.48 17.6 v2.3 M124.6 17.6 v2.3 M150.85 17.6 v2.3 M163.97 17.6 v2.3 M177.09 17.6 v2.3 M190.22 17.6 v2.3 M216.46 17.6 v2.3 M229.58 17.6 v2.3 M242.71 17.6 v2.3 M317.19 139.45 v-4.4 M368.13 139.45 v-4.4 M276.44 139.45 v-2.3 M286.63 139.45 v-2.3 M296.82 139.45 v-2.3 M307 139.45 v-2.3 M327.38 139.45 v-2.3 M337.57 139.45 v-2.3 M347.76 139.45 v-2.3 M357.95 139.45 v-2.3 M378.32 139.45 v-2.3 M388.51 139.45 v-2.3 M317.19 17.6 v4.4 M368.13 17.6 v4.4 M276.44 17.6 v2.3 M286.63 17.6 v2.3 M296.82 17.6 v2.3 M307 17.6 v2.3 M327.38 17.6 v2.3 M337.57 17.6 v2.3 M347.76 17.6 v2.3 M357.95 17.6 v2.3 M378.32 17.6 v2.3 M388.51 17.6 v2.3 M72.11 296.2 v-4.4 M137.72 296.2 v-4.4 M203.34 296.2 v-4.4 M45.86 296.2 v-2.3 M58.98 296.2 v-2.3 M85.23 296.2 v-2.3 M98.35 296.2 v-2.3 M111.48 296.2 v-2.3 M124.6 296.2 v-2.3 M150.85 296.2 v-2.3 M163.97 296.2 v-2.3 M177.09 296.2 v-2.3 M190.22 296.2 v-2.3 M216.46 296.2 v-2.3 M229.58 296.2 v-2.3 M242.71 296.2 v-2.3 M72.11 174.65 v4.4 M137.72 174.65 v4.4 M203.34 174.65 v4.4 M45.86 174.65 v2.3 M58.98 174.65 v2.3 M85.23 174.65 v2.3 M98.35 174.65 v2.3 M111.48 174.65 v2.3 M124.6 174.65 v2.3 M150.85 174.65 v2.3 M163.97 174.65 v2.3 M177.09 174.65 v2.3 M190.22 174.65 v2.3 M216.46 174.65 v2.3 M229.58 174.65 v2.3 M242.71 174.65 v2.3 M317.19 296.2 v-4.4 M368.13 296.2 v-4.4 M276.44 296.2 v-2.3 M286.63 296.2 v-2.3 M296.82 296.2 v-2.3 M307 296.2 v-2.3 M327.38 296.2 v-2.3 M337.57 296.2 v-2.3 M347.76 296.2 v-2.3 M357.95 296.2 v-2.3 M378.32 296.2 v-2.3 M388.51 296.2 v-2.3 M317.19 174.65 v4.4 M368.13 174.65 v4.4 M276.44 174.65 v2.3 M286.63 174.65 v2.3 M296.82 174.65 v2.3 M307 174.65 v2.3 M327.38 174.65 v2.3 M337.57 174.65 v2.3 M347.76 174.65 v2.3 M357.95 174.65 v2.3 M378.32 174.65 v2.3 M388.51 174.65 v2.3 M39.3 40.44 h4.4 M39.3 78.52 h4.4 M39.3 116.6 h4.4 M39.3 25.21 h2.3 M39.3 32.82 h2.3 M39.3 48.06 h2.3 M39.3 55.67 h2.3 M39.3 63.29 h2.3 M39.3 70.9 h2.3 M39.3 86.14 h2.3 M39.3 93.75 h2.3 M39.3 101.37 h2.3 M39.3 108.98 h2.3 M39.3 124.22 h2.3 M39.3 131.83 h2.3 M252.55 40.44 h-4.4 M252.55 78.52 h-4.4 M252.55 116.6 h-4.4 M252.55 25.21 h-2.3 M252.55 32.82 h-2.3 M252.55 48.06 h-2.3 M252.55 55.67 h-2.3 M252.55 63.29 h-2.3 M252.55 70.9 h-2.3 M252.55 86.14 h-2.3 M252.55 93.75 h-2.3 M252.55 101.37 h-2.3 M252.55 108.98 h-2.3 M252.55 124.22 h-2.3 M252.55 131.83 h-2.3 M266.25 40.44 h4.4 M266.25 78.52 h4.4 M266.25 116.6 h4.4 M266.25 25.21 h2.3 M266.25 32.82 h2.3 M266.25 48.06 h2.3 M266.25 55.67 h2.3 M266.25 63.29 h2.3 M266.25 70.9 h2.3 M266.25 86.14 h2.3 M266.25 93.75 h2.3 M266.25 101.37 h2.3 M266.25 108.98 h2.3 M266.25 124.22 h2.3 M266.25 131.83 h2.3 M398.7 40.44 h-4.4 M398.7 78.52 h-4.4 M398.7 116.6 h-4.4 M398.7 25.21 h-2.3 M398.7 32.82 h-2.3 M398.7 48.06 h-2.3 M398.7 55.67 h-2.3 M398.7 63.29 h-2.3 M398.7 70.9 h-2.3 M398.7 86.14 h-2.3 M398.7 93.75 h-2.3 M398.7 101.37 h-2.3 M398.7 108.98 h-2.3 M398.7 124.22 h-2.3 M398.7 131.83 h-2.3 M39.3 204.9 h4.4 M39.3 241.5 h4.4 M39.3 278.1 h4.4 M39.3 182.94 h2.3 M39.3 190.26 h2.3 M39.3 197.58 h2.3 M39.3 212.22 h2.3 M39.3 219.54 h2.3 M39.3 226.86 h2.3 M39.3 234.18 h2.3 M39.3 248.82 h2.3 M39.3 256.14 h2.3 M39.3 263.46 h2.3 M39.3 270.78 h2.3 M39.3 285.42 h2.3 M39.3 292.74 h2.3 M252.55 204.9 h-4.4 M252.55 241.5 h-4.4 M252.55 278.1 h-4.4 M252.55 182.94 h-2.3 M252.55 190.26 h-2.3 M252.55 197.58 h-2.3 M252.55 212.22 h-2.3 M252.55 219.54 h-2.3 M252.55 226.86 h-2.3 M252.55 234.18 h-2.3 M252.55 248.82 h-2.3 M252.55 256.14 h-2.3 M252.55 263.46 h-2.3 M252.55 270.78 h-2.3 M252.55 285.42 h-2.3 M252.55 292.74 h-2.3 M266.25 205.04 h4.4 M266.25 235.43 h4.4 M266.25 265.81 h4.4 M266.25 180.73 h2.3 M266.25 186.81 h2.3 M266.25 192.88 h2.3 M266.25 198.96 h2.3 M266.25 211.12 h2.3 M266.25 217.19 h2.3 M266.25 223.27 h2.3 M266.25 229.35 h2.3 M266.25 241.5 h2.3 M266.25 247.58 h2.3 M266.25 253.66 h2.3 M266.25 259.74 h2.3 M266.25 271.89 h2.3 M266.25 277.97 h2.3 M266.25 284.04 h2.3 M266.25 290.12 h2.3 M398.7 205.04 h-4.4 M398.7 235.43 h-4.4 M398.7 265.81 h-4.4 M398.7 180.73 h-2.3 M398.7 186.81 h-2.3 M398.7 192.88 h-2.3 M398.7 198.96 h-2.3 M398.7 211.12 h-2.3 M398.7 217.19 h-2.3 M398.7 223.27 h-2.3 M398.7 229.35 h-2.3 M398.7 241.5 h-2.3 M398.7 247.58 h-2.3 M398.7 253.66 h-2.3 M398.7 259.74 h-2.3 M398.7 271.89 h-2.3 M398.7 277.97 h-2.3 M398.7 284.04 h-2.3 M398.7 290.12 h-2.3 " stroke="#000" stroke-width="0.9" fill="none"/>
<rect x="39.3" y="17.6" width="213.25" height="121.85" fill="none" stroke="#000" stroke-width="1.1"/><rect x="266.25" y="17.6" width="132.45" height="121.85" fill="none" stroke="#000" stroke-width="1.1"/><rect x="39.3" y="174.65" width="213.25" height="121.55" fill="none" stroke="#000" stroke-width="1.1"/><rect x="266.25" y="174.65" width="132.45" height="121.55" fill="none" stroke="#000" stroke-width="1.1"/>
<rect x="48.5" y="4.5" width="170.2" height="34.2" fill="#fff" stroke="#000" stroke-width="1.1"/><path d="M53.6 14.2 H88.3" stroke="#f00" stroke-width="1.2" fill="none"/><path d="M53.6 29.4 H88.3" stroke="#00f" stroke-width="1.2" fill="none"/>
<rect x="49.8" y="253" width="106.7" height="38.8" fill="#fff" stroke="#6a6a6a" stroke-width="1.4"/><path d="M55 264.7 H90.2" stroke="#0ff" stroke-width="1.9" stroke-dasharray="9 4" fill="none"/><path d="M55 281.8 H90.2" stroke="#ffa500" stroke-width="1.9" stroke-dasharray="9 4" fill="none"/><path d="M107.5 276.3 V291.2 M118.4 276.3 V291.2 M125.6 276.3 V291.2 M136.1 276.3 V291.2" stroke="#222" stroke-width="1" fill="none"/>
<g style="filter:grayscale(1)">
<text x="97.4" y="17.6" font-size="12.15">EOB Re(h<tspan font-size="9" dy="2.4">22</tspan><tspan dy="-2.4">)</tspan> R/M</text><text x="97.4" y="32.7" font-size="12.15">Teuk-code Re(h<tspan font-size="9" dy="2.4">22</tspan><tspan dy="-2.4">)</tspan> R/M</text><text x="98.8" y="268.3" font-size="16">&#948;&#981;</text><text x="114.2" y="271.3" font-size="10.8">h</text><text x="122.8" y="268.3" font-size="15.8">(rad)</text><text x="98.8" y="287.3" font-size="16">&#948;</text><text x="109.0" y="287.3" font-size="16">h</text><text x="119.3" y="287.3" font-size="16">/</text><text x="126.8" y="287.3" font-size="16">h</text>
<text x="72.11" y="154.4" font-size="15.6" text-anchor="middle" >4600</text><text x="137.72" y="154.4" font-size="15.6" text-anchor="middle" >4800</text><text x="203.34" y="154.4" font-size="15.6" text-anchor="middle" >5000</text><text x="266.65" y="154.4" font-size="15.6" text-anchor="middle" >5150</text><text x="317.19" y="154.4" font-size="15.6" text-anchor="middle" >5200</text><text x="368.13" y="154.4" font-size="15.6" text-anchor="middle" >5250</text><text x="72.11" y="311.6" font-size="15.6" text-anchor="middle" >4600</text><text x="137.72" y="311.6" font-size="15.6" text-anchor="middle" >4800</text><text x="203.34" y="311.6" font-size="15.6" text-anchor="middle" >5000</text><text x="266.65" y="311.6" font-size="15.6" text-anchor="middle" >5150</text><text x="317.19" y="311.6" font-size="15.6" text-anchor="middle" >5200</text><text x="368.13" y="311.6" font-size="15.6" text-anchor="middle" >5250</text><text x="145.93" y="327.8" font-size="18" text-anchor="middle" >t/M</text><text x="332.88" y="327.8" font-size="18" text-anchor="middle" >t/M</text><text x="35.5" y="49.4" font-size="15.6" text-anchor="end">10<tspan font-size="10.6" dy="-9.0">-3</tspan></text><text x="35.3" y="83.3" font-size="15.6" text-anchor="end" >0</text><text x="35.5" y="125.7" font-size="15.6" text-anchor="end">-10<tspan font-size="10.6" dy="-9.0">-3</tspan></text><text x="403.5" y="49.4" font-size="15.6" text-anchor="start">10<tspan font-size="10.6" dy="-9.0">-3</tspan></text><text x="403.5" y="83.3" font-size="15.6" text-anchor="start" >0</text><text x="403.4" y="125.7" font-size="15.6" text-anchor="start">-10<tspan font-size="10.6" dy="-9.0">-3</tspan></text><text x="35.5" y="209.9" font-size="15.3" text-anchor="end" >0</text><text x="35.5" y="246.5" font-size="15.3" text-anchor="end" >-0.006</text><text x="35.5" y="283.4" font-size="15.3" text-anchor="end" >-0.012</text><text x="403.6" y="179.85" font-size="15.6" text-anchor="start" >0.0</text><text x="403.6" y="210.24" font-size="15.6" text-anchor="start" >-0.1</text><text x="403.6" y="240.62" font-size="15.6" text-anchor="start" >-0.2</text><text x="403.6" y="271.01" font-size="15.6" text-anchor="start" >-0.3</text><text x="403.6" y="301.4" font-size="15.6" text-anchor="start" >-0.4</text>
</g>
</svg>
</body></html>
